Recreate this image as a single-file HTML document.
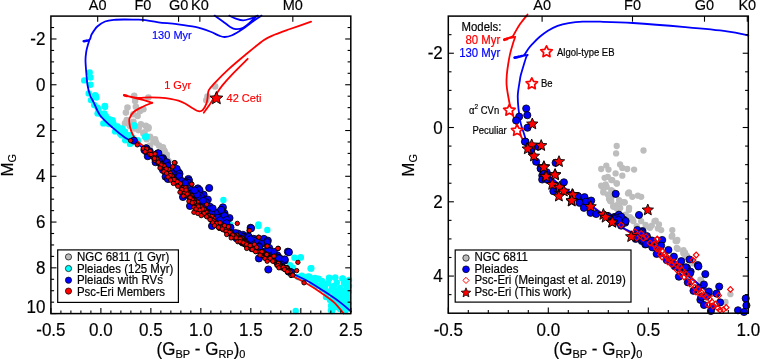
<!DOCTYPE html><html><head><meta charset="utf-8"><style>html,body{margin:0;padding:0;background:#fff;width:760px;height:359px;overflow:hidden;position:relative} svg text{stroke-width:0.18px;paint-order:stroke} svg{will-change:transform}</style></head><body><svg width="760" height="359" viewBox="0 0 760 359" style="position:absolute;left:0;top:0">
<g font-family='"Liberation Sans", sans-serif'>
<circle cx="134.2" cy="95.9" r="3.3" fill="#bdbdbd"/><circle cx="135.1" cy="100.9" r="3.3" fill="#bdbdbd"/><circle cx="148.4" cy="97.5" r="3.3" fill="#bdbdbd"/><circle cx="127.5" cy="107.5" r="3.3" fill="#bdbdbd"/><circle cx="135.9" cy="106.7" r="3.3" fill="#bdbdbd"/><circle cx="140.1" cy="110.9" r="3.3" fill="#bdbdbd"/><circle cx="143.4" cy="109.2" r="3.3" fill="#bdbdbd"/><circle cx="125.9" cy="112.6" r="3.3" fill="#bdbdbd"/><circle cx="133.4" cy="114.2" r="3.3" fill="#bdbdbd"/><circle cx="137.6" cy="115.9" r="3.3" fill="#bdbdbd"/><circle cx="126.7" cy="120.1" r="3.3" fill="#bdbdbd"/><circle cx="125.0" cy="123.4" r="3.3" fill="#bdbdbd"/><circle cx="133.4" cy="121.7" r="3.3" fill="#bdbdbd"/><circle cx="140.9" cy="124.2" r="3.3" fill="#bdbdbd"/><circle cx="145.9" cy="125.9" r="3.3" fill="#bdbdbd"/><circle cx="148.4" cy="128.4" r="3.3" fill="#bdbdbd"/><circle cx="134.2" cy="128.4" r="3.3" fill="#bdbdbd"/><circle cx="138.4" cy="130.1" r="3.3" fill="#bdbdbd"/><circle cx="143.4" cy="133.4" r="3.3" fill="#bdbdbd"/><circle cx="150.1" cy="136.8" r="3.3" fill="#bdbdbd"/><circle cx="155.1" cy="139.3" r="3.3" fill="#bdbdbd"/><circle cx="146.7" cy="139.3" r="3.3" fill="#bdbdbd"/><circle cx="148.4" cy="127.2" r="3.3" fill="#bdbdbd"/><circle cx="144.5" cy="132.2" r="3.3" fill="#bdbdbd"/><circle cx="153.4" cy="141.1" r="3.3" fill="#bdbdbd"/><circle cx="156.2" cy="142.8" r="3.3" fill="#bdbdbd"/><circle cx="150.1" cy="145.6" r="3.3" fill="#bdbdbd"/><circle cx="162.9" cy="147.3" r="3.3" fill="#bdbdbd"/><circle cx="159.0" cy="145.6" r="3.3" fill="#bdbdbd"/><circle cx="164.0" cy="150.6" r="3.3" fill="#bdbdbd"/><circle cx="166.8" cy="158.4" r="3.3" fill="#bdbdbd"/><circle cx="166.7" cy="154.5" r="3.3" fill="#bdbdbd"/><circle cx="164.5" cy="151.1" r="3.3" fill="#bdbdbd"/><circle cx="191.7" cy="188.9" r="3.3" fill="#bdbdbd"/><circle cx="168.5" cy="161.0" r="3.3" fill="#bdbdbd"/><circle cx="139.0" cy="127.0" r="3.3" fill="#bdbdbd"/><circle cx="130.0" cy="126.0" r="3.3" fill="#bdbdbd"/><circle cx="215.1" cy="86.4" r="3.3" fill="#bdbdbd"/><circle cx="206.3" cy="100.2" r="3.3" fill="#bdbdbd"/><circle cx="207.5" cy="96.5" r="3.3" fill="#bdbdbd"/><circle cx="89.7" cy="72.5" r="3.2" fill="#00ffff"/><circle cx="90.5" cy="77.5" r="3.2" fill="#00ffff"/><circle cx="84.2" cy="80.4" r="3.2" fill="#00ffff"/><circle cx="90.5" cy="84.7" r="3.2" fill="#00ffff"/><circle cx="88.7" cy="93.4" r="3.2" fill="#00ffff"/><circle cx="95.9" cy="95.9" r="3.2" fill="#00ffff"/><circle cx="90.9" cy="100.1" r="3.2" fill="#00ffff"/><circle cx="94.2" cy="105.0" r="3.2" fill="#00ffff"/><circle cx="104.7" cy="105.9" r="3.2" fill="#00ffff"/><circle cx="98.4" cy="109.3" r="3.2" fill="#00ffff"/><circle cx="104.2" cy="113.4" r="3.2" fill="#00ffff"/><circle cx="97.6" cy="113.4" r="3.2" fill="#00ffff"/><circle cx="105.0" cy="106.7" r="3.2" fill="#00ffff"/><circle cx="100.0" cy="113.4" r="3.2" fill="#00ffff"/><circle cx="105.8" cy="115.9" r="3.2" fill="#00ffff"/><circle cx="103.3" cy="123.4" r="3.2" fill="#00ffff"/><circle cx="109.2" cy="119.2" r="3.2" fill="#00ffff"/><circle cx="113.4" cy="123.4" r="3.2" fill="#00ffff"/><circle cx="116.7" cy="126.7" r="3.2" fill="#00ffff"/><circle cx="121.7" cy="128.4" r="3.2" fill="#00ffff"/><circle cx="125.0" cy="131.8" r="3.2" fill="#00ffff"/><circle cx="134.2" cy="125.1" r="3.2" fill="#00ffff"/><circle cx="120.0" cy="133.4" r="3.2" fill="#00ffff"/><circle cx="145.1" cy="136.8" r="3.2" fill="#00ffff"/><circle cx="130.0" cy="135.1" r="3.2" fill="#00ffff"/><circle cx="134.5" cy="126.1" r="3.2" fill="#00ffff"/><circle cx="122.2" cy="129.5" r="3.2" fill="#00ffff"/><circle cx="145.6" cy="137.2" r="3.2" fill="#00ffff"/><circle cx="126.7" cy="136.1" r="3.2" fill="#00ffff"/><circle cx="137.8" cy="141.7" r="3.2" fill="#00ffff"/><circle cx="130.0" cy="143.9" r="3.2" fill="#00ffff"/><circle cx="111.0" cy="124.0" r="3.2" fill="#00ffff"/><circle cx="118.0" cy="130.0" r="3.2" fill="#00ffff"/><circle cx="124.0" cy="135.0" r="3.2" fill="#00ffff"/><circle cx="108.0" cy="121.0" r="3.2" fill="#00ffff"/><circle cx="97.6" cy="107.6" r="3.2" fill="#00ffff"/><circle cx="105.0" cy="106.4" r="3.2" fill="#00ffff"/><circle cx="102.6" cy="115.2" r="3.2" fill="#00ffff"/><circle cx="106.3" cy="118.9" r="3.2" fill="#00ffff"/><circle cx="112.6" cy="120.2" r="3.2" fill="#00ffff"/><circle cx="108.8" cy="124.0" r="3.2" fill="#00ffff"/><circle cx="117.6" cy="126.4" r="3.2" fill="#00ffff"/><circle cx="122.6" cy="128.9" r="3.2" fill="#00ffff"/><circle cx="115.1" cy="131.4" r="3.2" fill="#00ffff"/><circle cx="121.4" cy="135.2" r="3.2" fill="#00ffff"/><circle cx="127.7" cy="135.2" r="3.2" fill="#00ffff"/><circle cx="132.7" cy="137.7" r="3.2" fill="#00ffff"/><circle cx="125.2" cy="140.2" r="3.2" fill="#00ffff"/><circle cx="137.7" cy="140.2" r="3.2" fill="#00ffff"/><circle cx="146.5" cy="136.5" r="3.2" fill="#00ffff"/><circle cx="95.0" cy="95.1" r="3.2" fill="#00ffff"/><circle cx="96.3" cy="97.6" r="3.2" fill="#00ffff"/><circle cx="223.4" cy="200.0" r="3.2" fill="#00ffff"/><circle cx="230.0" cy="224.5" r="3.2" fill="#00ffff"/><circle cx="258.4" cy="224.5" r="3.2" fill="#00ffff"/><circle cx="258.4" cy="226.1" r="3.2" fill="#00ffff"/><circle cx="267.3" cy="230.0" r="3.2" fill="#00ffff"/><circle cx="294.5" cy="257.8" r="3.2" fill="#00ffff"/><circle cx="300.6" cy="257.3" r="3.2" fill="#00ffff"/><circle cx="310.7" cy="268.4" r="3.2" fill="#00ffff"/><circle cx="290.0" cy="265.1" r="3.2" fill="#00ffff"/><circle cx="292.8" cy="267.8" r="3.2" fill="#00ffff"/><circle cx="301.7" cy="275.6" r="3.2" fill="#00ffff"/><circle cx="309.5" cy="276.7" r="3.2" fill="#00ffff"/><circle cx="311.3" cy="268.2" r="3.2" fill="#00ffff"/><circle cx="308.2" cy="276.5" r="3.2" fill="#00ffff"/><circle cx="318.6" cy="278.6" r="3.2" fill="#00ffff"/><circle cx="329.1" cy="277.6" r="3.2" fill="#00ffff"/><circle cx="335.3" cy="277.6" r="3.2" fill="#00ffff"/><circle cx="342.6" cy="278.6" r="3.2" fill="#00ffff"/><circle cx="346.8" cy="283.8" r="3.2" fill="#00ffff"/><circle cx="323.8" cy="284.9" r="3.2" fill="#00ffff"/><circle cx="332.2" cy="287.0" r="3.2" fill="#00ffff"/><circle cx="340.5" cy="290.1" r="3.2" fill="#00ffff"/><circle cx="334.3" cy="294.3" r="3.2" fill="#00ffff"/><circle cx="346.8" cy="296.4" r="3.2" fill="#00ffff"/><circle cx="331.1" cy="305.8" r="3.2" fill="#00ffff"/><circle cx="332.2" cy="311.0" r="3.2" fill="#00ffff"/><circle cx="295.7" cy="311.0" r="3.2" fill="#00ffff"/><circle cx="315.5" cy="281.8" r="3.2" fill="#00ffff"/><circle cx="336.0" cy="300.0" r="3.2" fill="#00ffff"/><circle cx="341.0" cy="305.0" r="3.2" fill="#00ffff"/><circle cx="345.0" cy="308.0" r="3.2" fill="#00ffff"/><circle cx="347.0" cy="290.0" r="3.2" fill="#00ffff"/><circle cx="340.0" cy="296.0" r="3.2" fill="#00ffff"/><circle cx="328.0" cy="292.0" r="3.2" fill="#00ffff"/><circle cx="338.0" cy="302.0" r="3.2" fill="#00ffff"/><circle cx="344.0" cy="299.0" r="3.2" fill="#00ffff"/><circle cx="337.0" cy="306.0" r="3.2" fill="#00ffff"/><circle cx="347.0" cy="303.0" r="3.2" fill="#00ffff"/><circle cx="322.0" cy="289.0" r="3.2" fill="#00ffff"/><circle cx="316.0" cy="286.0" r="3.2" fill="#00ffff"/><circle cx="326.0" cy="297.0" r="3.2" fill="#00ffff"/><circle cx="330.0" cy="300.0" r="3.2" fill="#00ffff"/><circle cx="304.0" cy="279.0" r="3.2" fill="#00ffff"/><circle cx="298.0" cy="277.0" r="3.2" fill="#00ffff"/><circle cx="312.0" cy="283.0" r="3.2" fill="#00ffff"/><circle cx="300.8" cy="257.5" r="3.2" fill="#00ffff"/><circle cx="310.9" cy="268.4" r="3.2" fill="#00ffff"/><circle cx="303.3" cy="276.7" r="3.2" fill="#00ffff"/><circle cx="310.0" cy="277.6" r="3.2" fill="#00ffff"/><circle cx="318.4" cy="279.2" r="3.2" fill="#00ffff"/><circle cx="329.3" cy="278.4" r="3.2" fill="#00ffff"/><circle cx="335.1" cy="277.6" r="3.2" fill="#00ffff"/><circle cx="342.6" cy="278.4" r="3.2" fill="#00ffff"/><circle cx="336.8" cy="282.6" r="3.2" fill="#00ffff"/><circle cx="346.0" cy="285.1" r="3.2" fill="#00ffff"/><circle cx="325.1" cy="285.9" r="3.2" fill="#00ffff"/><circle cx="331.8" cy="289.3" r="3.2" fill="#00ffff"/><circle cx="337.6" cy="291.0" r="3.2" fill="#00ffff"/><circle cx="342.6" cy="291.0" r="3.2" fill="#00ffff"/><circle cx="348.5" cy="291.8" r="3.2" fill="#00ffff"/><circle cx="346.8" cy="296.8" r="3.2" fill="#00ffff"/><circle cx="341.8" cy="298.5" r="3.2" fill="#00ffff"/><circle cx="338.5" cy="303.5" r="3.2" fill="#00ffff"/><circle cx="348.5" cy="303.5" r="3.2" fill="#00ffff"/><circle cx="331.8" cy="305.2" r="3.2" fill="#00ffff"/><circle cx="330.9" cy="310.2" r="3.2" fill="#00ffff"/><circle cx="348.5" cy="308.5" r="3.2" fill="#00ffff"/><circle cx="345.2" cy="311.0" r="3.2" fill="#00ffff"/><circle cx="315.0" cy="278.0" r="3.2" fill="#00ffff"/><circle cx="322.0" cy="281.0" r="3.2" fill="#00ffff"/><circle cx="328.0" cy="283.0" r="3.2" fill="#00ffff"/><circle cx="334.0" cy="286.0" r="3.2" fill="#00ffff"/><circle cx="340.0" cy="288.0" r="3.2" fill="#00ffff"/><circle cx="346.0" cy="290.0" r="3.2" fill="#00ffff"/><circle cx="344.0" cy="294.0" r="3.2" fill="#00ffff"/><circle cx="339.0" cy="296.0" r="3.2" fill="#00ffff"/><circle cx="335.0" cy="300.0" r="3.2" fill="#00ffff"/><circle cx="343.0" cy="301.0" r="3.2" fill="#00ffff"/><circle cx="347.0" cy="306.0" r="3.2" fill="#00ffff"/><circle cx="340.0" cy="309.0" r="3.2" fill="#00ffff"/><circle cx="336.0" cy="307.0" r="3.2" fill="#00ffff"/><circle cx="333.0" cy="298.0" r="3.2" fill="#00ffff"/><circle cx="326.0" cy="291.0" r="3.2" fill="#00ffff"/><circle cx="320.0" cy="286.0" r="3.2" fill="#00ffff"/><circle cx="348.0" cy="298.0" r="3.2" fill="#00ffff"/><circle cx="349.0" cy="286.0" r="3.2" fill="#00ffff"/><circle cx="349.0" cy="280.0" r="3.2" fill="#00ffff"/><circle cx="344.0" cy="283.0" r="3.2" fill="#00ffff"/><path d="M83.50,41.20 C84.50,40.97 88.13,40.95 89.50,39.80 C90.87,38.65 90.40,36.52 91.70,34.30 C93.00,32.08 95.07,28.63 97.30,26.50 C99.53,24.37 102.32,22.62 105.10,21.50 C107.88,20.38 110.65,20.13 114.00,19.80 C117.35,19.47 121.70,19.52 125.20,19.50 C128.70,19.48 132.10,19.63 135.00,19.70 C137.90,19.77 138.70,19.47 142.60,19.90 C146.50,20.33 152.70,21.60 158.40,22.30 C164.10,23.00 170.67,23.33 176.80,24.10 C182.93,24.87 189.67,25.67 195.20,26.90 C200.73,28.13 206.00,30.03 210.00,31.50 C214.00,32.97 216.75,34.78 219.20,35.70 C221.65,36.62 222.55,37.08 224.70,37.00 C226.85,36.92 229.03,36.58 232.10,35.20 C235.17,33.82 239.42,31.17 243.10,28.70 C246.78,26.23 251.13,22.58 254.20,20.40 C257.27,18.22 260.28,16.40 261.50,15.60 M89.50,39.80 C89.18,40.83 88.15,43.97 87.60,46.00 C87.05,48.03 86.55,49.55 86.20,52.00 C85.85,54.45 85.45,56.87 85.50,60.70 C85.55,64.53 86.17,70.95 86.50,75.00 C86.83,79.05 86.92,81.67 87.50,85.00 C88.08,88.33 88.95,92.07 90.00,95.00 C91.05,97.93 92.13,99.23 93.80,102.60 C95.47,105.97 96.87,111.02 100.00,115.20 C103.13,119.38 108.40,123.95 112.60,127.70 C116.80,131.45 121.43,135.20 125.20,137.70 C128.97,140.20 131.07,140.15 135.20,142.70 C139.33,145.25 144.87,148.78 150.00,153.00 C155.13,157.22 159.33,161.00 166.00,168.00 C172.67,175.00 181.83,186.50 190.00,195.00 C198.17,203.50 206.67,211.83 215.00,219.00 C223.33,226.17 231.67,232.00 240.00,238.00 C248.33,244.00 256.93,249.45 265.00,255.00 C273.07,260.55 281.38,267.02 288.40,271.30 C295.42,275.58 301.20,277.40 307.10,280.70 C313.00,284.00 318.23,287.45 323.80,291.10 C329.37,294.75 335.97,299.20 340.50,302.60 C345.03,306.00 349.25,310.02 351.00,311.50 M214.60,15.60 C215.98,16.57 220.30,19.52 222.90,21.40 C225.50,23.28 228.05,25.62 230.20,26.90 C232.35,28.18 233.65,28.95 235.80,29.10 C237.95,29.25 240.73,28.90 243.10,27.80 C245.47,26.70 247.85,24.38 250.00,22.50 C252.15,20.62 255.00,17.50 256.00,16.50 M229.30,15.60 C230.38,16.10 233.50,17.80 235.80,18.60 C238.10,19.40 240.65,20.40 243.10,20.40 C245.55,20.40 248.03,19.40 250.50,18.60 C252.97,17.80 256.67,16.10 257.90,15.60" fill="none" stroke="#0000ff" stroke-width="1.8" stroke-linejoin="round" stroke-linecap="round"/><path d="M343.70,313.60 C342.13,311.77 337.95,306.00 334.30,302.60 C330.65,299.20 326.33,296.33 321.80,293.20 C317.27,290.07 312.67,287.10 307.10,283.80 C301.53,280.50 295.42,277.87 288.40,273.40 C281.38,268.93 273.07,262.57 265.00,257.00 C256.93,251.43 248.33,246.00 240.00,240.00 C231.67,234.00 223.33,228.17 215.00,221.00 C206.67,213.83 198.17,205.67 190.00,197.00 C181.83,188.33 172.67,176.55 166.00,169.00 C159.33,161.45 154.33,155.97 150.00,151.70 C145.67,147.43 142.77,146.03 140.00,143.40 C137.23,140.77 135.07,138.68 133.40,135.90 C131.73,133.12 130.65,129.62 130.00,126.70 C129.35,123.78 128.85,120.90 129.50,118.40 C130.15,115.90 131.68,113.65 133.90,111.70 C136.12,109.75 139.73,108.18 142.80,106.70 C145.87,105.22 150.72,103.45 152.30,102.80 M152.3,102.8 L144,100.2 L137.3,98.6 L123.9,95.2 M123.90,95.20 C126.08,95.63 132.65,97.45 137.00,97.80 C141.35,98.15 145.20,97.23 150.00,97.30 C154.80,97.37 160.53,97.45 165.80,98.20 C171.07,98.95 177.13,100.13 181.60,101.80 C186.07,103.47 189.78,106.63 192.60,108.20 C195.42,109.77 196.83,110.87 198.50,111.20 C200.17,111.53 201.30,111.42 202.60,110.20 C203.90,108.98 205.47,106.00 206.30,103.90 C207.13,101.80 207.18,99.90 207.60,97.60 C208.02,95.30 207.55,92.60 208.80,90.10 C210.05,87.60 211.97,85.93 215.10,82.60 C218.23,79.27 222.58,74.70 227.60,70.10 C232.62,65.50 239.13,60.02 245.20,55.00 C251.27,49.98 259.03,43.42 264.00,40.00 C268.97,36.58 270.67,36.33 275.00,34.50 C279.33,32.67 283.98,31.13 290.00,29.00 C296.02,26.87 307.58,22.92 311.10,21.70 M247.70,58.80 C245.20,61.30 236.88,69.42 232.70,73.80 C228.52,78.18 225.32,81.75 222.60,85.10 C219.88,88.45 218.48,90.77 216.40,93.90 C214.32,97.03 212.20,100.77 210.10,103.90 C208.00,107.03 204.85,111.23 203.80,112.70" fill="none" stroke="#ff0000" stroke-width="1.8" stroke-linejoin="round" stroke-linecap="round"/><path d="M86.5,40.7 L84,41.2" stroke="#0000ff" stroke-width="2.6" stroke-linecap="round" fill="none"/><path d="M127,96 L124.3,95.3" stroke="#ff0000" stroke-width="2.6" stroke-linecap="round" fill="none"/><circle cx="162.9" cy="158.2" r="3.6" fill="#0000ff" stroke="#000" stroke-width="0.8"/><circle cx="166.9" cy="162.3" r="3.6" fill="#0000ff" stroke="#000" stroke-width="0.8"/><circle cx="163.3" cy="159.4" r="3.6" fill="#0000ff" stroke="#000" stroke-width="0.8"/><circle cx="178.8" cy="172.6" r="3.6" fill="#0000ff" stroke="#000" stroke-width="0.8"/><circle cx="174.7" cy="172.8" r="3.6" fill="#0000ff" stroke="#000" stroke-width="0.8"/><circle cx="188.4" cy="179.0" r="3.6" fill="#0000ff" stroke="#000" stroke-width="0.8"/><circle cx="182.3" cy="182.3" r="3.6" fill="#0000ff" stroke="#000" stroke-width="0.8"/><circle cx="167.0" cy="175.8" r="3.6" fill="#0000ff" stroke="#000" stroke-width="0.8"/><circle cx="176.0" cy="177.8" r="3.6" fill="#0000ff" stroke="#000" stroke-width="0.8"/><circle cx="183.6" cy="182.2" r="3.6" fill="#0000ff" stroke="#000" stroke-width="0.8"/><circle cx="189.0" cy="180.7" r="3.6" fill="#0000ff" stroke="#000" stroke-width="0.8"/><circle cx="203.6" cy="194.7" r="3.6" fill="#0000ff" stroke="#000" stroke-width="0.8"/><circle cx="222.9" cy="207.4" r="3.6" fill="#0000ff" stroke="#000" stroke-width="0.8"/><circle cx="214.8" cy="214.3" r="3.6" fill="#0000ff" stroke="#000" stroke-width="0.8"/><circle cx="224.5" cy="213.3" r="3.6" fill="#0000ff" stroke="#000" stroke-width="0.8"/><circle cx="222.1" cy="218.2" r="3.6" fill="#0000ff" stroke="#000" stroke-width="0.8"/><circle cx="221.5" cy="210.6" r="3.6" fill="#0000ff" stroke="#000" stroke-width="0.8"/><circle cx="217.0" cy="212.9" r="3.6" fill="#0000ff" stroke="#000" stroke-width="0.8"/><circle cx="224.5" cy="216.7" r="3.6" fill="#0000ff" stroke="#000" stroke-width="0.8"/><circle cx="219.8" cy="220.7" r="3.6" fill="#0000ff" stroke="#000" stroke-width="0.8"/><circle cx="229.5" cy="218.0" r="3.6" fill="#0000ff" stroke="#000" stroke-width="0.8"/><circle cx="242.9" cy="234.8" r="3.6" fill="#0000ff" stroke="#000" stroke-width="0.8"/><circle cx="246.5" cy="237.7" r="3.6" fill="#0000ff" stroke="#000" stroke-width="0.8"/><circle cx="242.6" cy="236.4" r="3.6" fill="#0000ff" stroke="#000" stroke-width="0.8"/><circle cx="261.5" cy="251.2" r="3.6" fill="#0000ff" stroke="#000" stroke-width="0.8"/><circle cx="277.3" cy="255.3" r="3.6" fill="#0000ff" stroke="#000" stroke-width="0.8"/><circle cx="284.8" cy="260.4" r="3.6" fill="#0000ff" stroke="#000" stroke-width="0.8"/><circle cx="268.3" cy="253.8" r="3.6" fill="#0000ff" stroke="#000" stroke-width="0.8"/><circle cx="248.0" cy="236.0" r="3.6" fill="#0000ff" stroke="#000" stroke-width="0.8"/><circle cx="269.2" cy="248.0" r="3.6" fill="#0000ff" stroke="#000" stroke-width="0.8"/><circle cx="279.4" cy="258.0" r="3.6" fill="#0000ff" stroke="#000" stroke-width="0.8"/><circle cx="281.0" cy="262.3" r="3.6" fill="#0000ff" stroke="#000" stroke-width="0.8"/><circle cx="271.7" cy="254.1" r="3.6" fill="#0000ff" stroke="#000" stroke-width="0.8"/><circle cx="133.9" cy="140.6" r="3.6" fill="#0000ff" stroke="#000" stroke-width="0.8"/><circle cx="157.9" cy="153.4" r="3.6" fill="#0000ff" stroke="#000" stroke-width="0.8"/><circle cx="161.2" cy="158.4" r="3.6" fill="#0000ff" stroke="#000" stroke-width="0.8"/><circle cx="147.8" cy="156.2" r="3.6" fill="#0000ff" stroke="#000" stroke-width="0.8"/><circle cx="164.5" cy="161.7" r="3.6" fill="#0000ff" stroke="#000" stroke-width="0.8"/><circle cx="158.4" cy="153.3" r="3.6" fill="#0000ff" stroke="#000" stroke-width="0.8"/><circle cx="161.1" cy="158.9" r="3.6" fill="#0000ff" stroke="#000" stroke-width="0.8"/><circle cx="155.6" cy="162.2" r="3.6" fill="#0000ff" stroke="#000" stroke-width="0.8"/><circle cx="167.8" cy="166.1" r="3.6" fill="#0000ff" stroke="#000" stroke-width="0.8"/><circle cx="176.7" cy="168.9" r="3.6" fill="#0000ff" stroke="#000" stroke-width="0.8"/><circle cx="179.5" cy="173.9" r="3.6" fill="#0000ff" stroke="#000" stroke-width="0.8"/><circle cx="171.7" cy="173.4" r="3.6" fill="#0000ff" stroke="#000" stroke-width="0.8"/><circle cx="185.6" cy="181.7" r="3.6" fill="#0000ff" stroke="#000" stroke-width="0.8"/><circle cx="181.2" cy="184.5" r="3.6" fill="#0000ff" stroke="#000" stroke-width="0.8"/><circle cx="165.6" cy="176.7" r="3.6" fill="#0000ff" stroke="#000" stroke-width="0.8"/><circle cx="197.9" cy="188.4" r="3.6" fill="#0000ff" stroke="#000" stroke-width="0.8"/><circle cx="176.7" cy="180.1" r="3.6" fill="#0000ff" stroke="#000" stroke-width="0.8"/><circle cx="168.0" cy="179.0" r="3.6" fill="#0000ff" stroke="#000" stroke-width="0.8"/><circle cx="163.0" cy="170.0" r="3.6" fill="#0000ff" stroke="#000" stroke-width="0.8"/><circle cx="183.3" cy="181.7" r="3.6" fill="#0000ff" stroke="#000" stroke-width="0.8"/><circle cx="186.7" cy="183.3" r="3.6" fill="#0000ff" stroke="#000" stroke-width="0.8"/><circle cx="199.5" cy="190.0" r="3.6" fill="#0000ff" stroke="#000" stroke-width="0.8"/><circle cx="209.2" cy="188.0" r="3.6" fill="#0000ff" stroke="#000" stroke-width="0.8"/><circle cx="201.2" cy="197.3" r="3.6" fill="#0000ff" stroke="#000" stroke-width="0.8"/><circle cx="207.8" cy="199.5" r="3.6" fill="#0000ff" stroke="#000" stroke-width="0.8"/><circle cx="195.0" cy="199.5" r="3.6" fill="#0000ff" stroke="#000" stroke-width="0.8"/><circle cx="197.8" cy="203.4" r="3.6" fill="#0000ff" stroke="#000" stroke-width="0.8"/><circle cx="221.2" cy="210.1" r="3.6" fill="#0000ff" stroke="#000" stroke-width="0.8"/><circle cx="215.6" cy="214.0" r="3.6" fill="#0000ff" stroke="#000" stroke-width="0.8"/><circle cx="224.5" cy="215.6" r="3.6" fill="#0000ff" stroke="#000" stroke-width="0.8"/><circle cx="210.1" cy="213.4" r="3.6" fill="#0000ff" stroke="#000" stroke-width="0.8"/><circle cx="219.0" cy="217.9" r="3.6" fill="#0000ff" stroke="#000" stroke-width="0.8"/><circle cx="183.0" cy="197.0" r="3.6" fill="#0000ff" stroke="#000" stroke-width="0.8"/><circle cx="190.0" cy="206.0" r="3.6" fill="#0000ff" stroke="#000" stroke-width="0.8"/><circle cx="221.1" cy="210.0" r="3.6" fill="#0000ff" stroke="#000" stroke-width="0.8"/><circle cx="215.6" cy="213.4" r="3.6" fill="#0000ff" stroke="#000" stroke-width="0.8"/><circle cx="224.5" cy="216.1" r="3.6" fill="#0000ff" stroke="#000" stroke-width="0.8"/><circle cx="217.8" cy="220.0" r="3.6" fill="#0000ff" stroke="#000" stroke-width="0.8"/><circle cx="226.7" cy="220.0" r="3.6" fill="#0000ff" stroke="#000" stroke-width="0.8"/><circle cx="250.6" cy="227.8" r="3.6" fill="#0000ff" stroke="#000" stroke-width="0.8"/><circle cx="242.3" cy="237.3" r="3.6" fill="#0000ff" stroke="#000" stroke-width="0.8"/><circle cx="246.7" cy="240.6" r="3.6" fill="#0000ff" stroke="#000" stroke-width="0.8"/><circle cx="254.5" cy="239.5" r="3.6" fill="#0000ff" stroke="#000" stroke-width="0.8"/><circle cx="235.6" cy="236.2" r="3.6" fill="#0000ff" stroke="#000" stroke-width="0.8"/><circle cx="212.0" cy="226.0" r="3.6" fill="#0000ff" stroke="#000" stroke-width="0.8"/><circle cx="251.1" cy="228.3" r="3.6" fill="#0000ff" stroke="#000" stroke-width="0.8"/><circle cx="242.2" cy="237.2" r="3.6" fill="#0000ff" stroke="#000" stroke-width="0.8"/><circle cx="255.6" cy="240.0" r="3.6" fill="#0000ff" stroke="#000" stroke-width="0.8"/><circle cx="263.9" cy="238.9" r="3.6" fill="#0000ff" stroke="#000" stroke-width="0.8"/><circle cx="267.8" cy="240.6" r="3.6" fill="#0000ff" stroke="#000" stroke-width="0.8"/><circle cx="262.3" cy="251.7" r="3.6" fill="#0000ff" stroke="#000" stroke-width="0.8"/><circle cx="276.7" cy="257.3" r="3.6" fill="#0000ff" stroke="#000" stroke-width="0.8"/><circle cx="282.3" cy="261.7" r="3.6" fill="#0000ff" stroke="#000" stroke-width="0.8"/><circle cx="287.9" cy="251.7" r="3.6" fill="#0000ff" stroke="#000" stroke-width="0.8"/><circle cx="258.9" cy="258.4" r="3.6" fill="#0000ff" stroke="#000" stroke-width="0.8"/><circle cx="267.8" cy="255.1" r="3.6" fill="#0000ff" stroke="#000" stroke-width="0.8"/><circle cx="246.0" cy="239.0" r="3.6" fill="#0000ff" stroke="#000" stroke-width="0.8"/><circle cx="288.9" cy="252.2" r="3.6" fill="#0000ff" stroke="#000" stroke-width="0.8"/><circle cx="267.2" cy="242.2" r="3.6" fill="#0000ff" stroke="#000" stroke-width="0.8"/><circle cx="266.1" cy="251.1" r="3.6" fill="#0000ff" stroke="#000" stroke-width="0.8"/><circle cx="277.2" cy="257.8" r="3.6" fill="#0000ff" stroke="#000" stroke-width="0.8"/><circle cx="281.7" cy="262.3" r="3.6" fill="#0000ff" stroke="#000" stroke-width="0.8"/><circle cx="268.3" cy="269.5" r="3.6" fill="#0000ff" stroke="#000" stroke-width="0.8"/><circle cx="271.0" cy="255.0" r="3.6" fill="#0000ff" stroke="#000" stroke-width="0.8"/><circle cx="155.0" cy="158.5" r="3.4" fill="#0000ff" stroke="#000" stroke-width="0.8"/><circle cx="277.5" cy="262.8" r="3.4" fill="#0000ff" stroke="#000" stroke-width="0.8"/><circle cx="159.4" cy="161.9" r="3.4" fill="#0000ff" stroke="#000" stroke-width="0.8"/><circle cx="217.0" cy="221.4" r="3.4" fill="#0000ff" stroke="#000" stroke-width="0.8"/><circle cx="193.8" cy="202.2" r="3.4" fill="#0000ff" stroke="#000" stroke-width="0.8"/><circle cx="161.7" cy="166.5" r="3.4" fill="#0000ff" stroke="#000" stroke-width="0.8"/><circle cx="268.9" cy="256.1" r="3.4" fill="#0000ff" stroke="#000" stroke-width="0.8"/><circle cx="171.0" cy="176.3" r="3.4" fill="#0000ff" stroke="#000" stroke-width="0.8"/><circle cx="288.5" cy="271.7" r="3.4" fill="#0000ff" stroke="#000" stroke-width="0.8"/><circle cx="145.7" cy="151.2" r="3.4" fill="#0000ff" stroke="#000" stroke-width="0.8"/><circle cx="191.0" cy="198.7" r="3.4" fill="#0000ff" stroke="#000" stroke-width="0.8"/><circle cx="281.8" cy="266.8" r="3.4" fill="#0000ff" stroke="#000" stroke-width="0.8"/><circle cx="250.4" cy="245.7" r="3.4" fill="#0000ff" stroke="#000" stroke-width="0.8"/><circle cx="255.1" cy="248.6" r="3.4" fill="#0000ff" stroke="#000" stroke-width="0.8"/><circle cx="188.2" cy="195.3" r="3.4" fill="#0000ff" stroke="#000" stroke-width="0.8"/><circle cx="290.4" cy="271.8" r="3.4" fill="#0000ff" stroke="#000" stroke-width="0.8"/><circle cx="209.7" cy="214.7" r="3.4" fill="#0000ff" stroke="#000" stroke-width="0.8"/><circle cx="242.7" cy="242.7" r="3.4" fill="#0000ff" stroke="#000" stroke-width="0.8"/><circle cx="236.5" cy="238.5" r="3.4" fill="#0000ff" stroke="#000" stroke-width="0.8"/><circle cx="195.1" cy="202.7" r="3.4" fill="#0000ff" stroke="#000" stroke-width="0.8"/><circle cx="146.5" cy="148.3" r="3.4" fill="#0000ff" stroke="#000" stroke-width="0.8"/><circle cx="286.3" cy="268.7" r="3.4" fill="#0000ff" stroke="#000" stroke-width="0.8"/><circle cx="271.2" cy="258.2" r="3.4" fill="#0000ff" stroke="#000" stroke-width="0.8"/><circle cx="212.8" cy="220.3" r="3.4" fill="#0000ff" stroke="#000" stroke-width="0.8"/><circle cx="247.7" cy="245.4" r="3.4" fill="#0000ff" stroke="#000" stroke-width="0.8"/><circle cx="214.4" cy="220.3" r="3.4" fill="#0000ff" stroke="#000" stroke-width="0.8"/><circle cx="234.0" cy="236.5" r="3.4" fill="#0000ff" stroke="#000" stroke-width="0.8"/><circle cx="144.2" cy="150.0" r="3.4" fill="#0000ff" stroke="#000" stroke-width="0.8"/><circle cx="227.8" cy="229.1" r="3.4" fill="#0000ff" stroke="#000" stroke-width="0.8"/><circle cx="188.7" cy="192.6" r="3.4" fill="#0000ff" stroke="#000" stroke-width="0.8"/><circle cx="205.2" cy="213.2" r="3.4" fill="#0000ff" stroke="#000" stroke-width="0.8"/><circle cx="167.0" cy="170.5" r="3.4" fill="#0000ff" stroke="#000" stroke-width="0.8"/><circle cx="246.2" cy="241.7" r="3.4" fill="#0000ff" stroke="#000" stroke-width="0.8"/><circle cx="257.2" cy="249.9" r="3.4" fill="#0000ff" stroke="#000" stroke-width="0.8"/><circle cx="278.6" cy="264.0" r="3.4" fill="#0000ff" stroke="#000" stroke-width="0.8"/><circle cx="149.9" cy="151.2" r="3.4" fill="#0000ff" stroke="#000" stroke-width="0.8"/><circle cx="146.0" cy="148.1" r="3.4" fill="#0000ff" stroke="#000" stroke-width="0.8"/><circle cx="239.9" cy="238.3" r="3.4" fill="#0000ff" stroke="#000" stroke-width="0.8"/><circle cx="161.1" cy="164.4" r="3.4" fill="#0000ff" stroke="#000" stroke-width="0.8"/><circle cx="289.7" cy="272.1" r="3.4" fill="#0000ff" stroke="#000" stroke-width="0.8"/><circle cx="205.7" cy="210.3" r="3.4" fill="#0000ff" stroke="#000" stroke-width="0.8"/><circle cx="265.0" cy="255.8" r="3.4" fill="#0000ff" stroke="#000" stroke-width="0.8"/><circle cx="162.5" cy="166.9" r="3.4" fill="#0000ff" stroke="#000" stroke-width="0.8"/><circle cx="214.3" cy="218.6" r="3.4" fill="#0000ff" stroke="#000" stroke-width="0.8"/><circle cx="252.0" cy="248.4" r="3.4" fill="#0000ff" stroke="#000" stroke-width="0.8"/><circle cx="291.3" cy="272.2" r="3.4" fill="#0000ff" stroke="#000" stroke-width="0.8"/><circle cx="172.0" cy="173.3" r="3.4" fill="#0000ff" stroke="#000" stroke-width="0.8"/><circle cx="178.2" cy="183.4" r="3.4" fill="#0000ff" stroke="#000" stroke-width="0.8"/><circle cx="213.5" cy="221.1" r="3.4" fill="#0000ff" stroke="#000" stroke-width="0.8"/><circle cx="230.0" cy="232.9" r="3.4" fill="#0000ff" stroke="#000" stroke-width="0.8"/><circle cx="226.5" cy="223.1" r="3.4" fill="#0000ff" stroke="#000" stroke-width="0.8"/><circle cx="273.8" cy="251.7" r="3.4" fill="#0000ff" stroke="#000" stroke-width="0.8"/><circle cx="278.9" cy="258.3" r="3.4" fill="#0000ff" stroke="#000" stroke-width="0.8"/><circle cx="179.3" cy="176.2" r="3.4" fill="#0000ff" stroke="#000" stroke-width="0.8"/><circle cx="198.7" cy="197.0" r="3.4" fill="#0000ff" stroke="#000" stroke-width="0.8"/><circle cx="251.7" cy="243.8" r="3.4" fill="#0000ff" stroke="#000" stroke-width="0.8"/><circle cx="196.5" cy="195.3" r="3.4" fill="#0000ff" stroke="#000" stroke-width="0.8"/><circle cx="261.5" cy="243.8" r="3.4" fill="#0000ff" stroke="#000" stroke-width="0.8"/><circle cx="238.1" cy="233.4" r="3.4" fill="#0000ff" stroke="#000" stroke-width="0.8"/><circle cx="191.3" cy="189.7" r="3.4" fill="#0000ff" stroke="#000" stroke-width="0.8"/><circle cx="230.7" cy="227.5" r="3.4" fill="#0000ff" stroke="#000" stroke-width="0.8"/><circle cx="196.5" cy="193.0" r="3.4" fill="#0000ff" stroke="#000" stroke-width="0.8"/><circle cx="253.8" cy="240.0" r="3.4" fill="#0000ff" stroke="#000" stroke-width="0.8"/><circle cx="181.6" cy="180.9" r="3.4" fill="#0000ff" stroke="#000" stroke-width="0.8"/><circle cx="259.0" cy="246.1" r="3.4" fill="#0000ff" stroke="#000" stroke-width="0.8"/><circle cx="206.2" cy="202.3" r="3.4" fill="#0000ff" stroke="#000" stroke-width="0.8"/><circle cx="253.6" cy="238.7" r="3.4" fill="#0000ff" stroke="#000" stroke-width="0.8"/><circle cx="216.3" cy="218.7" r="3.4" fill="#0000ff" stroke="#000" stroke-width="0.8"/><circle cx="192.3" cy="193.1" r="3.4" fill="#0000ff" stroke="#000" stroke-width="0.8"/><circle cx="198.9" cy="201.5" r="3.4" fill="#0000ff" stroke="#000" stroke-width="0.8"/><circle cx="211.7" cy="213.2" r="3.4" fill="#0000ff" stroke="#000" stroke-width="0.8"/><circle cx="202.3" cy="201.3" r="3.4" fill="#0000ff" stroke="#000" stroke-width="0.8"/><circle cx="256.1" cy="240.3" r="3.4" fill="#0000ff" stroke="#000" stroke-width="0.8"/><circle cx="268.2" cy="254.0" r="3.4" fill="#0000ff" stroke="#000" stroke-width="0.8"/><circle cx="204.2" cy="204.9" r="3.4" fill="#0000ff" stroke="#000" stroke-width="0.8"/><circle cx="251.6" cy="241.9" r="3.4" fill="#0000ff" stroke="#000" stroke-width="0.8"/><circle cx="200.3" cy="195.9" r="3.4" fill="#0000ff" stroke="#000" stroke-width="0.8"/><circle cx="195.8" cy="194.7" r="3.4" fill="#0000ff" stroke="#000" stroke-width="0.8"/><circle cx="198.0" cy="197.2" r="3.4" fill="#0000ff" stroke="#000" stroke-width="0.8"/><circle cx="268.1" cy="250.6" r="3.4" fill="#0000ff" stroke="#000" stroke-width="0.8"/><circle cx="196.9" cy="194.5" r="3.4" fill="#0000ff" stroke="#000" stroke-width="0.8"/><circle cx="188.3" cy="182.7" r="3.4" fill="#0000ff" stroke="#000" stroke-width="0.8"/><circle cx="210.0" cy="206.6" r="3.4" fill="#0000ff" stroke="#000" stroke-width="0.8"/><circle cx="185.1" cy="183.2" r="3.4" fill="#0000ff" stroke="#000" stroke-width="0.8"/><circle cx="258.8" cy="246.9" r="3.4" fill="#0000ff" stroke="#000" stroke-width="0.8"/><circle cx="248.9" cy="236.6" r="3.4" fill="#0000ff" stroke="#000" stroke-width="0.8"/><circle cx="268.3" cy="250.3" r="3.4" fill="#0000ff" stroke="#000" stroke-width="0.8"/><circle cx="217.7" cy="217.7" r="3.4" fill="#0000ff" stroke="#000" stroke-width="0.8"/><circle cx="220.2" cy="220.1" r="3.4" fill="#0000ff" stroke="#000" stroke-width="0.8"/><circle cx="212.8" cy="208.3" r="3.4" fill="#0000ff" stroke="#000" stroke-width="0.8"/><circle cx="284.8" cy="259.2" r="3.4" fill="#0000ff" stroke="#000" stroke-width="0.8"/><circle cx="194.5" cy="190.3" r="3.4" fill="#0000ff" stroke="#000" stroke-width="0.8"/><circle cx="202.9" cy="200.7" r="3.4" fill="#0000ff" stroke="#000" stroke-width="0.8"/><circle cx="235.4" cy="232.8" r="3.4" fill="#0000ff" stroke="#000" stroke-width="0.8"/><circle cx="250.4" cy="239.1" r="3.4" fill="#0000ff" stroke="#000" stroke-width="0.8"/><circle cx="164.0" cy="166.0" r="2.1" fill="#ff0000" stroke="#000" stroke-width="1.0"/><circle cx="176.4" cy="181.0" r="2.1" fill="#ff0000" stroke="#000" stroke-width="1.0"/><circle cx="236.5" cy="238.1" r="2.1" fill="#ff0000" stroke="#000" stroke-width="1.0"/><circle cx="217.4" cy="225.2" r="2.1" fill="#ff0000" stroke="#000" stroke-width="1.0"/><circle cx="282.8" cy="267.4" r="2.1" fill="#ff0000" stroke="#000" stroke-width="1.0"/><circle cx="194.4" cy="200.5" r="2.1" fill="#ff0000" stroke="#000" stroke-width="1.0"/><circle cx="173.6" cy="177.4" r="2.1" fill="#ff0000" stroke="#000" stroke-width="1.0"/><circle cx="287.1" cy="267.7" r="2.1" fill="#ff0000" stroke="#000" stroke-width="1.0"/><circle cx="193.3" cy="199.1" r="2.1" fill="#ff0000" stroke="#000" stroke-width="1.0"/><circle cx="272.0" cy="260.1" r="2.1" fill="#ff0000" stroke="#000" stroke-width="1.0"/><circle cx="247.7" cy="245.5" r="2.1" fill="#ff0000" stroke="#000" stroke-width="1.0"/><circle cx="233.8" cy="235.3" r="2.1" fill="#ff0000" stroke="#000" stroke-width="1.0"/><circle cx="189.4" cy="195.5" r="2.1" fill="#ff0000" stroke="#000" stroke-width="1.0"/><circle cx="236.7" cy="235.5" r="2.1" fill="#ff0000" stroke="#000" stroke-width="1.0"/><circle cx="291.0" cy="275.6" r="2.1" fill="#ff0000" stroke="#000" stroke-width="1.0"/><circle cx="186.3" cy="191.3" r="2.1" fill="#ff0000" stroke="#000" stroke-width="1.0"/><circle cx="239.7" cy="237.6" r="2.1" fill="#ff0000" stroke="#000" stroke-width="1.0"/><circle cx="276.9" cy="265.4" r="2.1" fill="#ff0000" stroke="#000" stroke-width="1.0"/><circle cx="204.4" cy="214.9" r="2.1" fill="#ff0000" stroke="#000" stroke-width="1.0"/><circle cx="204.2" cy="210.4" r="2.1" fill="#ff0000" stroke="#000" stroke-width="1.0"/><circle cx="158.1" cy="163.1" r="2.1" fill="#ff0000" stroke="#000" stroke-width="1.0"/><circle cx="269.8" cy="257.0" r="2.1" fill="#ff0000" stroke="#000" stroke-width="1.0"/><circle cx="211.9" cy="218.3" r="2.1" fill="#ff0000" stroke="#000" stroke-width="1.0"/><circle cx="229.2" cy="233.3" r="2.1" fill="#ff0000" stroke="#000" stroke-width="1.0"/><circle cx="243.5" cy="241.6" r="2.1" fill="#ff0000" stroke="#000" stroke-width="1.0"/><circle cx="255.7" cy="249.6" r="2.1" fill="#ff0000" stroke="#000" stroke-width="1.0"/><circle cx="191.9" cy="195.8" r="2.1" fill="#ff0000" stroke="#000" stroke-width="1.0"/><circle cx="194.1" cy="201.0" r="2.1" fill="#ff0000" stroke="#000" stroke-width="1.0"/><circle cx="150.7" cy="154.9" r="2.1" fill="#ff0000" stroke="#000" stroke-width="1.0"/><circle cx="263.1" cy="254.7" r="2.1" fill="#ff0000" stroke="#000" stroke-width="1.0"/><circle cx="270.4" cy="257.9" r="2.1" fill="#ff0000" stroke="#000" stroke-width="1.0"/><circle cx="215.6" cy="222.7" r="2.1" fill="#ff0000" stroke="#000" stroke-width="1.0"/><circle cx="206.1" cy="214.7" r="2.1" fill="#ff0000" stroke="#000" stroke-width="1.0"/><circle cx="162.8" cy="165.3" r="2.1" fill="#ff0000" stroke="#000" stroke-width="1.0"/><circle cx="241.0" cy="242.7" r="2.1" fill="#ff0000" stroke="#000" stroke-width="1.0"/><circle cx="184.6" cy="193.0" r="2.1" fill="#ff0000" stroke="#000" stroke-width="1.0"/><circle cx="249.7" cy="245.7" r="2.1" fill="#ff0000" stroke="#000" stroke-width="1.0"/><circle cx="275.6" cy="262.3" r="2.1" fill="#ff0000" stroke="#000" stroke-width="1.0"/><circle cx="172.5" cy="175.9" r="2.1" fill="#ff0000" stroke="#000" stroke-width="1.0"/><circle cx="262.5" cy="254.9" r="2.1" fill="#ff0000" stroke="#000" stroke-width="1.0"/><circle cx="172.2" cy="175.9" r="2.1" fill="#ff0000" stroke="#000" stroke-width="1.0"/><circle cx="195.0" cy="200.2" r="2.1" fill="#ff0000" stroke="#000" stroke-width="1.0"/><circle cx="153.9" cy="156.8" r="2.1" fill="#ff0000" stroke="#000" stroke-width="1.0"/><circle cx="213.9" cy="218.3" r="2.1" fill="#ff0000" stroke="#000" stroke-width="1.0"/><circle cx="182.0" cy="187.3" r="2.1" fill="#ff0000" stroke="#000" stroke-width="1.0"/><circle cx="184.7" cy="190.1" r="2.1" fill="#ff0000" stroke="#000" stroke-width="1.0"/><circle cx="185.5" cy="191.5" r="2.1" fill="#ff0000" stroke="#000" stroke-width="1.0"/><circle cx="222.8" cy="229.7" r="2.1" fill="#ff0000" stroke="#000" stroke-width="1.0"/><circle cx="229.6" cy="231.0" r="2.1" fill="#ff0000" stroke="#000" stroke-width="1.0"/><circle cx="218.1" cy="224.5" r="2.1" fill="#ff0000" stroke="#000" stroke-width="1.0"/><circle cx="219.3" cy="223.1" r="2.1" fill="#ff0000" stroke="#000" stroke-width="1.0"/><circle cx="269.4" cy="258.7" r="2.1" fill="#ff0000" stroke="#000" stroke-width="1.0"/><circle cx="195.7" cy="203.4" r="2.1" fill="#ff0000" stroke="#000" stroke-width="1.0"/><circle cx="199.3" cy="207.9" r="2.1" fill="#ff0000" stroke="#000" stroke-width="1.0"/><circle cx="178.0" cy="183.0" r="2.1" fill="#ff0000" stroke="#000" stroke-width="1.0"/><circle cx="240.5" cy="240.5" r="2.1" fill="#ff0000" stroke="#000" stroke-width="1.0"/><circle cx="290.1" cy="271.6" r="2.1" fill="#ff0000" stroke="#000" stroke-width="1.0"/><circle cx="211.4" cy="218.7" r="2.1" fill="#ff0000" stroke="#000" stroke-width="1.0"/><circle cx="164.3" cy="166.0" r="2.1" fill="#ff0000" stroke="#000" stroke-width="1.0"/><circle cx="199.8" cy="206.1" r="2.1" fill="#ff0000" stroke="#000" stroke-width="1.0"/><circle cx="204.4" cy="210.9" r="2.1" fill="#ff0000" stroke="#000" stroke-width="1.0"/><circle cx="204.0" cy="210.4" r="2.1" fill="#ff0000" stroke="#000" stroke-width="1.0"/><circle cx="208.9" cy="217.0" r="2.1" fill="#ff0000" stroke="#000" stroke-width="1.0"/><circle cx="246.6" cy="246.8" r="2.1" fill="#ff0000" stroke="#000" stroke-width="1.0"/><circle cx="168.9" cy="169.4" r="2.1" fill="#ff0000" stroke="#000" stroke-width="1.0"/><circle cx="224.0" cy="226.9" r="2.1" fill="#ff0000" stroke="#000" stroke-width="1.0"/><circle cx="187.6" cy="195.4" r="2.1" fill="#ff0000" stroke="#000" stroke-width="1.0"/><circle cx="242.0" cy="240.1" r="2.1" fill="#ff0000" stroke="#000" stroke-width="1.0"/><circle cx="149.7" cy="153.4" r="2.1" fill="#ff0000" stroke="#000" stroke-width="1.0"/><circle cx="262.8" cy="255.4" r="2.1" fill="#ff0000" stroke="#000" stroke-width="1.0"/><circle cx="278.4" cy="264.0" r="2.1" fill="#ff0000" stroke="#000" stroke-width="1.0"/><circle cx="219.4" cy="228.4" r="2.1" fill="#ff0000" stroke="#000" stroke-width="1.0"/><circle cx="207.0" cy="212.2" r="2.1" fill="#ff0000" stroke="#000" stroke-width="1.0"/><circle cx="272.1" cy="258.2" r="2.1" fill="#ff0000" stroke="#000" stroke-width="1.0"/><circle cx="196.4" cy="202.9" r="2.1" fill="#ff0000" stroke="#000" stroke-width="1.0"/><circle cx="201.7" cy="206.9" r="2.1" fill="#ff0000" stroke="#000" stroke-width="1.0"/><circle cx="170.3" cy="173.1" r="2.1" fill="#ff0000" stroke="#000" stroke-width="1.0"/><circle cx="180.5" cy="184.8" r="2.1" fill="#ff0000" stroke="#000" stroke-width="1.0"/><circle cx="180.1" cy="184.9" r="2.1" fill="#ff0000" stroke="#000" stroke-width="1.0"/><circle cx="157.5" cy="162.1" r="2.1" fill="#ff0000" stroke="#000" stroke-width="1.0"/><circle cx="217.9" cy="225.5" r="2.1" fill="#ff0000" stroke="#000" stroke-width="1.0"/><circle cx="209.2" cy="215.7" r="2.1" fill="#ff0000" stroke="#000" stroke-width="1.0"/><circle cx="227.2" cy="231.9" r="2.1" fill="#ff0000" stroke="#000" stroke-width="1.0"/><circle cx="256.4" cy="247.5" r="2.1" fill="#ff0000" stroke="#000" stroke-width="1.0"/><circle cx="244.5" cy="244.8" r="2.1" fill="#ff0000" stroke="#000" stroke-width="1.0"/><circle cx="219.0" cy="226.8" r="2.1" fill="#ff0000" stroke="#000" stroke-width="1.0"/><circle cx="255.2" cy="249.4" r="2.1" fill="#ff0000" stroke="#000" stroke-width="1.0"/><circle cx="227.5" cy="229.2" r="2.1" fill="#ff0000" stroke="#000" stroke-width="1.0"/><circle cx="269.4" cy="256.8" r="2.1" fill="#ff0000" stroke="#000" stroke-width="1.0"/><circle cx="229.0" cy="232.2" r="2.1" fill="#ff0000" stroke="#000" stroke-width="1.0"/><circle cx="287.9" cy="272.0" r="2.1" fill="#ff0000" stroke="#000" stroke-width="1.0"/><circle cx="271.5" cy="259.0" r="2.1" fill="#ff0000" stroke="#000" stroke-width="1.0"/><circle cx="205.6" cy="211.5" r="2.1" fill="#ff0000" stroke="#000" stroke-width="1.0"/><circle cx="273.6" cy="259.1" r="2.1" fill="#ff0000" stroke="#000" stroke-width="1.0"/><circle cx="197.8" cy="202.0" r="2.1" fill="#ff0000" stroke="#000" stroke-width="1.0"/><circle cx="211.4" cy="220.1" r="2.1" fill="#ff0000" stroke="#000" stroke-width="1.0"/><circle cx="246.2" cy="241.7" r="2.1" fill="#ff0000" stroke="#000" stroke-width="1.0"/><circle cx="225.8" cy="231.4" r="2.1" fill="#ff0000" stroke="#000" stroke-width="1.0"/><circle cx="232.6" cy="234.8" r="2.1" fill="#ff0000" stroke="#000" stroke-width="1.0"/><circle cx="263.2" cy="253.3" r="2.1" fill="#ff0000" stroke="#000" stroke-width="1.0"/><circle cx="191.1" cy="197.5" r="2.1" fill="#ff0000" stroke="#000" stroke-width="1.0"/><circle cx="184.3" cy="189.5" r="2.1" fill="#ff0000" stroke="#000" stroke-width="1.0"/><circle cx="184.6" cy="190.2" r="2.1" fill="#ff0000" stroke="#000" stroke-width="1.0"/><circle cx="213.4" cy="220.7" r="2.1" fill="#ff0000" stroke="#000" stroke-width="1.0"/><circle cx="271.2" cy="258.7" r="2.1" fill="#ff0000" stroke="#000" stroke-width="1.0"/><circle cx="277.2" cy="263.5" r="2.1" fill="#ff0000" stroke="#000" stroke-width="1.0"/><circle cx="229.7" cy="231.5" r="2.1" fill="#ff0000" stroke="#000" stroke-width="1.0"/><circle cx="192.0" cy="201.0" r="2.1" fill="#ff0000" stroke="#000" stroke-width="1.0"/><circle cx="164.8" cy="169.4" r="2.1" fill="#ff0000" stroke="#000" stroke-width="1.0"/><circle cx="237.0" cy="235.0" r="2.1" fill="#ff0000" stroke="#000" stroke-width="1.0"/><circle cx="211.8" cy="216.2" r="2.1" fill="#ff0000" stroke="#000" stroke-width="1.0"/><circle cx="235.3" cy="236.2" r="2.1" fill="#ff0000" stroke="#000" stroke-width="1.0"/><circle cx="286.9" cy="267.9" r="2.1" fill="#ff0000" stroke="#000" stroke-width="1.0"/><circle cx="194.6" cy="201.7" r="2.1" fill="#ff0000" stroke="#000" stroke-width="1.0"/><circle cx="222.4" cy="226.9" r="2.1" fill="#ff0000" stroke="#000" stroke-width="1.0"/><circle cx="189.9" cy="196.7" r="2.1" fill="#ff0000" stroke="#000" stroke-width="1.0"/><circle cx="285.0" cy="268.8" r="2.1" fill="#ff0000" stroke="#000" stroke-width="1.0"/><circle cx="225.8" cy="229.7" r="2.1" fill="#ff0000" stroke="#000" stroke-width="1.0"/><circle cx="256.1" cy="251.5" r="2.1" fill="#ff0000" stroke="#000" stroke-width="1.0"/><circle cx="148.0" cy="151.3" r="2.1" fill="#ff0000" stroke="#000" stroke-width="1.0"/><circle cx="242.8" cy="238.2" r="2.1" fill="#ff0000" stroke="#000" stroke-width="1.0"/><circle cx="288.1" cy="270.8" r="2.1" fill="#ff0000" stroke="#000" stroke-width="1.0"/><circle cx="206.1" cy="211.6" r="2.1" fill="#ff0000" stroke="#000" stroke-width="1.0"/><circle cx="242.7" cy="239.9" r="2.1" fill="#ff0000" stroke="#000" stroke-width="1.0"/><circle cx="243.2" cy="242.4" r="2.1" fill="#ff0000" stroke="#000" stroke-width="1.0"/><circle cx="197.8" cy="205.1" r="2.1" fill="#ff0000" stroke="#000" stroke-width="1.0"/><circle cx="218.9" cy="228.1" r="2.1" fill="#ff0000" stroke="#000" stroke-width="1.0"/><circle cx="241.0" cy="239.1" r="2.1" fill="#ff0000" stroke="#000" stroke-width="1.0"/><circle cx="283.4" cy="266.4" r="2.1" fill="#ff0000" stroke="#000" stroke-width="1.0"/><circle cx="228.8" cy="230.7" r="2.1" fill="#ff0000" stroke="#000" stroke-width="1.0"/><circle cx="273.5" cy="259.8" r="2.1" fill="#ff0000" stroke="#000" stroke-width="1.0"/><circle cx="239.2" cy="238.3" r="2.1" fill="#ff0000" stroke="#000" stroke-width="1.0"/><circle cx="185.1" cy="192.3" r="2.1" fill="#ff0000" stroke="#000" stroke-width="1.0"/><circle cx="253.5" cy="247.8" r="2.1" fill="#ff0000" stroke="#000" stroke-width="1.0"/><circle cx="272.0" cy="257.8" r="2.1" fill="#ff0000" stroke="#000" stroke-width="1.0"/><circle cx="161.4" cy="163.8" r="2.1" fill="#ff0000" stroke="#000" stroke-width="1.0"/><circle cx="157.2" cy="159.2" r="2.1" fill="#ff0000" stroke="#000" stroke-width="1.0"/><circle cx="265.2" cy="255.0" r="2.1" fill="#ff0000" stroke="#000" stroke-width="1.0"/><circle cx="204.6" cy="209.2" r="2.1" fill="#ff0000" stroke="#000" stroke-width="1.0"/><circle cx="175.0" cy="179.6" r="2.1" fill="#ff0000" stroke="#000" stroke-width="1.0"/><circle cx="242.1" cy="240.9" r="2.1" fill="#ff0000" stroke="#000" stroke-width="1.0"/><circle cx="264.0" cy="252.9" r="2.1" fill="#ff0000" stroke="#000" stroke-width="1.0"/><circle cx="265.6" cy="253.7" r="2.1" fill="#ff0000" stroke="#000" stroke-width="1.0"/><circle cx="279.8" cy="266.4" r="2.1" fill="#ff0000" stroke="#000" stroke-width="1.0"/><circle cx="241.5" cy="241.6" r="2.1" fill="#ff0000" stroke="#000" stroke-width="1.0"/><circle cx="225.4" cy="228.5" r="2.1" fill="#ff0000" stroke="#000" stroke-width="1.0"/><circle cx="259.9" cy="251.6" r="2.1" fill="#ff0000" stroke="#000" stroke-width="1.0"/><circle cx="227.4" cy="232.0" r="2.1" fill="#ff0000" stroke="#000" stroke-width="1.0"/><circle cx="151.8" cy="154.1" r="2.1" fill="#ff0000" stroke="#000" stroke-width="1.0"/><circle cx="278.6" cy="263.5" r="2.1" fill="#ff0000" stroke="#000" stroke-width="1.0"/><circle cx="250.1" cy="247.1" r="2.1" fill="#ff0000" stroke="#000" stroke-width="1.0"/><circle cx="192.3" cy="200.0" r="2.1" fill="#ff0000" stroke="#000" stroke-width="1.0"/><circle cx="238.8" cy="239.8" r="2.1" fill="#ff0000" stroke="#000" stroke-width="1.0"/><circle cx="245.3" cy="242.5" r="2.1" fill="#ff0000" stroke="#000" stroke-width="1.0"/><circle cx="188.1" cy="192.3" r="2.1" fill="#ff0000" stroke="#000" stroke-width="1.0"/><circle cx="188.1" cy="193.1" r="2.1" fill="#ff0000" stroke="#000" stroke-width="1.0"/><circle cx="180.5" cy="183.7" r="2.1" fill="#ff0000" stroke="#000" stroke-width="1.0"/><circle cx="262.5" cy="251.8" r="2.1" fill="#ff0000" stroke="#000" stroke-width="1.0"/><circle cx="246.2" cy="243.5" r="2.1" fill="#ff0000" stroke="#000" stroke-width="1.0"/><circle cx="192.3" cy="199.4" r="2.1" fill="#ff0000" stroke="#000" stroke-width="1.0"/><circle cx="190.1" cy="196.7" r="2.1" fill="#ff0000" stroke="#000" stroke-width="1.0"/><circle cx="202.7" cy="210.7" r="2.1" fill="#ff0000" stroke="#000" stroke-width="1.0"/><circle cx="231.9" cy="233.3" r="2.1" fill="#ff0000" stroke="#000" stroke-width="1.0"/><circle cx="203.0" cy="211.7" r="2.1" fill="#ff0000" stroke="#000" stroke-width="1.0"/><circle cx="194.4" cy="202.4" r="2.1" fill="#ff0000" stroke="#000" stroke-width="1.0"/><circle cx="245.6" cy="245.1" r="2.1" fill="#ff0000" stroke="#000" stroke-width="1.0"/><circle cx="184.6" cy="192.9" r="2.1" fill="#ff0000" stroke="#000" stroke-width="1.0"/><circle cx="230.4" cy="231.8" r="2.1" fill="#ff0000" stroke="#000" stroke-width="1.0"/><circle cx="267.6" cy="254.7" r="2.1" fill="#ff0000" stroke="#000" stroke-width="1.0"/><circle cx="130.6" cy="140.6" r="2.2" fill="#ff0000" stroke="#000" stroke-width="0.9"/><circle cx="137.3" cy="144.8" r="2.2" fill="#ff0000" stroke="#000" stroke-width="0.9"/><circle cx="143.4" cy="148.4" r="2.2" fill="#ff0000" stroke="#000" stroke-width="0.9"/><circle cx="146.7" cy="148.9" r="2.2" fill="#ff0000" stroke="#000" stroke-width="0.9"/><circle cx="150.1" cy="151.2" r="2.2" fill="#ff0000" stroke="#000" stroke-width="0.9"/><circle cx="145.1" cy="151.7" r="2.2" fill="#ff0000" stroke="#000" stroke-width="0.9"/><circle cx="149.5" cy="154.2" r="2.2" fill="#ff0000" stroke="#000" stroke-width="0.9"/><circle cx="155.1" cy="153.7" r="2.2" fill="#ff0000" stroke="#000" stroke-width="0.9"/><circle cx="153.4" cy="157.3" r="2.2" fill="#ff0000" stroke="#000" stroke-width="0.9"/><circle cx="154.5" cy="160.1" r="2.2" fill="#ff0000" stroke="#000" stroke-width="0.9"/><circle cx="157.9" cy="162.3" r="2.2" fill="#ff0000" stroke="#000" stroke-width="0.9"/><circle cx="155.0" cy="153.9" r="2.2" fill="#ff0000" stroke="#000" stroke-width="0.9"/><circle cx="151.1" cy="154.5" r="2.2" fill="#ff0000" stroke="#000" stroke-width="0.9"/><circle cx="154.5" cy="158.4" r="2.2" fill="#ff0000" stroke="#000" stroke-width="0.9"/><circle cx="158.4" cy="162.2" r="2.2" fill="#ff0000" stroke="#000" stroke-width="0.9"/><circle cx="161.1" cy="165.0" r="2.2" fill="#ff0000" stroke="#000" stroke-width="0.9"/><circle cx="175.1" cy="162.8" r="2.2" fill="#ff0000" stroke="#000" stroke-width="0.9"/><circle cx="172.8" cy="166.7" r="2.2" fill="#ff0000" stroke="#000" stroke-width="0.9"/><circle cx="166.1" cy="168.9" r="2.2" fill="#ff0000" stroke="#000" stroke-width="0.9"/><circle cx="163.9" cy="171.7" r="2.2" fill="#ff0000" stroke="#000" stroke-width="0.9"/><circle cx="166.7" cy="173.4" r="2.2" fill="#ff0000" stroke="#000" stroke-width="0.9"/><circle cx="170.0" cy="175.6" r="2.2" fill="#ff0000" stroke="#000" stroke-width="0.9"/><circle cx="173.9" cy="179.5" r="2.2" fill="#ff0000" stroke="#000" stroke-width="0.9"/><circle cx="170.6" cy="180.1" r="2.2" fill="#ff0000" stroke="#000" stroke-width="0.9"/><circle cx="177.3" cy="181.7" r="2.2" fill="#ff0000" stroke="#000" stroke-width="0.9"/><circle cx="173.4" cy="183.4" r="2.2" fill="#ff0000" stroke="#000" stroke-width="0.9"/><circle cx="177.8" cy="186.2" r="2.2" fill="#ff0000" stroke="#000" stroke-width="0.9"/><circle cx="185.6" cy="187.9" r="2.2" fill="#ff0000" stroke="#000" stroke-width="0.9"/><circle cx="191.8" cy="184.0" r="2.2" fill="#ff0000" stroke="#000" stroke-width="0.9"/><circle cx="181.2" cy="189.0" r="2.2" fill="#ff0000" stroke="#000" stroke-width="0.9"/><circle cx="168.0" cy="177.0" r="2.2" fill="#ff0000" stroke="#000" stroke-width="0.9"/><circle cx="160.0" cy="168.0" r="2.2" fill="#ff0000" stroke="#000" stroke-width="0.9"/><circle cx="191.7" cy="184.2" r="2.2" fill="#ff0000" stroke="#000" stroke-width="0.9"/><circle cx="185.6" cy="187.8" r="2.2" fill="#ff0000" stroke="#000" stroke-width="0.9"/><circle cx="181.7" cy="189.5" r="2.2" fill="#ff0000" stroke="#000" stroke-width="0.9"/><circle cx="187.2" cy="193.9" r="2.2" fill="#ff0000" stroke="#000" stroke-width="0.9"/><circle cx="183.3" cy="196.1" r="2.2" fill="#ff0000" stroke="#000" stroke-width="0.9"/><circle cx="190.0" cy="197.8" r="2.2" fill="#ff0000" stroke="#000" stroke-width="0.9"/><circle cx="188.9" cy="201.2" r="2.2" fill="#ff0000" stroke="#000" stroke-width="0.9"/><circle cx="192.2" cy="202.8" r="2.2" fill="#ff0000" stroke="#000" stroke-width="0.9"/><circle cx="193.9" cy="207.3" r="2.2" fill="#ff0000" stroke="#000" stroke-width="0.9"/><circle cx="198.4" cy="206.7" r="2.2" fill="#ff0000" stroke="#000" stroke-width="0.9"/><circle cx="202.8" cy="209.0" r="2.2" fill="#ff0000" stroke="#000" stroke-width="0.9"/><circle cx="206.7" cy="204.5" r="2.2" fill="#ff0000" stroke="#000" stroke-width="0.9"/><circle cx="199.5" cy="210.1" r="2.2" fill="#ff0000" stroke="#000" stroke-width="0.9"/><circle cx="193.9" cy="212.3" r="2.2" fill="#ff0000" stroke="#000" stroke-width="0.9"/><circle cx="197.8" cy="213.4" r="2.2" fill="#ff0000" stroke="#000" stroke-width="0.9"/><circle cx="203.9" cy="213.4" r="2.2" fill="#ff0000" stroke="#000" stroke-width="0.9"/><circle cx="201.2" cy="215.6" r="2.2" fill="#ff0000" stroke="#000" stroke-width="0.9"/><circle cx="206.7" cy="216.7" r="2.2" fill="#ff0000" stroke="#000" stroke-width="0.9"/><circle cx="210.1" cy="218.4" r="2.2" fill="#ff0000" stroke="#000" stroke-width="0.9"/><circle cx="180.0" cy="192.2" r="2.2" fill="#ff0000" stroke="#000" stroke-width="0.9"/><circle cx="186.0" cy="190.0" r="2.2" fill="#ff0000" stroke="#000" stroke-width="0.9"/><circle cx="196.0" cy="209.0" r="2.2" fill="#ff0000" stroke="#000" stroke-width="0.9"/><circle cx="210.0" cy="219.5" r="2.2" fill="#ff0000" stroke="#000" stroke-width="0.9"/><circle cx="212.8" cy="222.8" r="2.2" fill="#ff0000" stroke="#000" stroke-width="0.9"/><circle cx="216.7" cy="223.4" r="2.2" fill="#ff0000" stroke="#000" stroke-width="0.9"/><circle cx="220.0" cy="222.8" r="2.2" fill="#ff0000" stroke="#000" stroke-width="0.9"/><circle cx="214.5" cy="225.6" r="2.2" fill="#ff0000" stroke="#000" stroke-width="0.9"/><circle cx="218.4" cy="227.3" r="2.2" fill="#ff0000" stroke="#000" stroke-width="0.9"/><circle cx="224.5" cy="225.6" r="2.2" fill="#ff0000" stroke="#000" stroke-width="0.9"/><circle cx="228.4" cy="226.7" r="2.2" fill="#ff0000" stroke="#000" stroke-width="0.9"/><circle cx="222.2" cy="229.0" r="2.2" fill="#ff0000" stroke="#000" stroke-width="0.9"/><circle cx="226.1" cy="231.2" r="2.2" fill="#ff0000" stroke="#000" stroke-width="0.9"/><circle cx="229.5" cy="232.3" r="2.2" fill="#ff0000" stroke="#000" stroke-width="0.9"/><circle cx="232.8" cy="235.1" r="2.2" fill="#ff0000" stroke="#000" stroke-width="0.9"/><circle cx="226.7" cy="234.5" r="2.2" fill="#ff0000" stroke="#000" stroke-width="0.9"/><circle cx="231.2" cy="237.9" r="2.2" fill="#ff0000" stroke="#000" stroke-width="0.9"/><circle cx="236.2" cy="237.9" r="2.2" fill="#ff0000" stroke="#000" stroke-width="0.9"/><circle cx="240.1" cy="239.0" r="2.2" fill="#ff0000" stroke="#000" stroke-width="0.9"/><circle cx="237.8" cy="241.7" r="2.2" fill="#ff0000" stroke="#000" stroke-width="0.9"/><circle cx="243.4" cy="242.3" r="2.2" fill="#ff0000" stroke="#000" stroke-width="0.9"/><circle cx="246.7" cy="243.4" r="2.2" fill="#ff0000" stroke="#000" stroke-width="0.9"/><circle cx="237.3" cy="223.4" r="2.2" fill="#ff0000" stroke="#000" stroke-width="0.9"/><circle cx="249.0" cy="230.6" r="2.2" fill="#ff0000" stroke="#000" stroke-width="0.9"/><circle cx="258.4" cy="237.3" r="2.2" fill="#ff0000" stroke="#000" stroke-width="0.9"/><circle cx="249.5" cy="230.6" r="2.2" fill="#ff0000" stroke="#000" stroke-width="0.9"/><circle cx="258.9" cy="237.2" r="2.2" fill="#ff0000" stroke="#000" stroke-width="0.9"/><circle cx="240.0" cy="241.7" r="2.2" fill="#ff0000" stroke="#000" stroke-width="0.9"/><circle cx="243.3" cy="242.8" r="2.2" fill="#ff0000" stroke="#000" stroke-width="0.9"/><circle cx="246.7" cy="244.5" r="2.2" fill="#ff0000" stroke="#000" stroke-width="0.9"/><circle cx="250.0" cy="245.6" r="2.2" fill="#ff0000" stroke="#000" stroke-width="0.9"/><circle cx="254.5" cy="244.5" r="2.2" fill="#ff0000" stroke="#000" stroke-width="0.9"/><circle cx="256.7" cy="247.3" r="2.2" fill="#ff0000" stroke="#000" stroke-width="0.9"/><circle cx="252.2" cy="249.5" r="2.2" fill="#ff0000" stroke="#000" stroke-width="0.9"/><circle cx="255.6" cy="251.7" r="2.2" fill="#ff0000" stroke="#000" stroke-width="0.9"/><circle cx="261.7" cy="251.7" r="2.2" fill="#ff0000" stroke="#000" stroke-width="0.9"/><circle cx="266.7" cy="246.2" r="2.2" fill="#ff0000" stroke="#000" stroke-width="0.9"/><circle cx="278.4" cy="248.4" r="2.2" fill="#ff0000" stroke="#000" stroke-width="0.9"/><circle cx="266.7" cy="254.5" r="2.2" fill="#ff0000" stroke="#000" stroke-width="0.9"/><circle cx="260.0" cy="255.1" r="2.2" fill="#ff0000" stroke="#000" stroke-width="0.9"/><circle cx="270.1" cy="258.4" r="2.2" fill="#ff0000" stroke="#000" stroke-width="0.9"/><circle cx="274.0" cy="256.2" r="2.2" fill="#ff0000" stroke="#000" stroke-width="0.9"/><circle cx="273.4" cy="260.6" r="2.2" fill="#ff0000" stroke="#000" stroke-width="0.9"/><circle cx="278.4" cy="263.4" r="2.2" fill="#ff0000" stroke="#000" stroke-width="0.9"/><circle cx="265.0" cy="258.4" r="2.2" fill="#ff0000" stroke="#000" stroke-width="0.9"/><circle cx="246.7" cy="248.4" r="2.2" fill="#ff0000" stroke="#000" stroke-width="0.9"/><circle cx="267.2" cy="246.1" r="2.2" fill="#ff0000" stroke="#000" stroke-width="0.9"/><circle cx="277.8" cy="248.4" r="2.2" fill="#ff0000" stroke="#000" stroke-width="0.9"/><circle cx="266.7" cy="254.5" r="2.2" fill="#ff0000" stroke="#000" stroke-width="0.9"/><circle cx="270.0" cy="258.4" r="2.2" fill="#ff0000" stroke="#000" stroke-width="0.9"/><circle cx="273.9" cy="256.1" r="2.2" fill="#ff0000" stroke="#000" stroke-width="0.9"/><circle cx="272.8" cy="261.2" r="2.2" fill="#ff0000" stroke="#000" stroke-width="0.9"/><circle cx="267.2" cy="261.2" r="2.2" fill="#ff0000" stroke="#000" stroke-width="0.9"/><circle cx="277.8" cy="265.6" r="2.2" fill="#ff0000" stroke="#000" stroke-width="0.9"/><circle cx="278.9" cy="267.8" r="2.2" fill="#ff0000" stroke="#000" stroke-width="0.9"/><circle cx="283.4" cy="267.3" r="2.2" fill="#ff0000" stroke="#000" stroke-width="0.9"/><circle cx="284.5" cy="269.5" r="2.2" fill="#ff0000" stroke="#000" stroke-width="0.9"/><circle cx="287.3" cy="271.7" r="2.2" fill="#ff0000" stroke="#000" stroke-width="0.9"/><circle cx="297.9" cy="262.3" r="2.2" fill="#ff0000" stroke="#000" stroke-width="0.9"/><circle cx="296.7" cy="270.6" r="2.2" fill="#ff0000" stroke="#000" stroke-width="0.9"/><circle cx="292.8" cy="275.1" r="2.2" fill="#ff0000" stroke="#000" stroke-width="0.9"/><circle cx="304.0" cy="282.8" r="2.2" fill="#ff0000" stroke="#000" stroke-width="0.9"/><circle cx="174.3" cy="162.6" r="2.2" fill="#ff0000" stroke="#000" stroke-width="0.9"/><polygon points="216.40,91.50 218.20,95.82 222.87,96.20 219.31,99.25 220.40,103.80 216.40,101.36 212.40,103.80 213.49,99.25 209.93,96.20 214.60,95.82" fill="#ff0000" stroke="#000" stroke-width="0.9" stroke-linejoin="miter"/>
<circle cx="616.7" cy="146.0" r="3.15" fill="#bdbdbd"/><circle cx="616.1" cy="153.4" r="3.15" fill="#bdbdbd"/><circle cx="643.5" cy="150.5" r="3.15" fill="#bdbdbd"/><circle cx="601.2" cy="169.0" r="3.15" fill="#bdbdbd"/><circle cx="606.3" cy="165.6" r="3.15" fill="#bdbdbd"/><circle cx="608.5" cy="169.6" r="3.15" fill="#bdbdbd"/><circle cx="620.1" cy="164.5" r="3.15" fill="#bdbdbd"/><circle cx="622.3" cy="167.9" r="3.15" fill="#bdbdbd"/><circle cx="627.2" cy="169.0" r="3.15" fill="#bdbdbd"/><circle cx="634.1" cy="169.6" r="3.15" fill="#bdbdbd"/><circle cx="615.6" cy="173.4" r="3.15" fill="#bdbdbd"/><circle cx="622.3" cy="175.7" r="3.15" fill="#bdbdbd"/><circle cx="607.8" cy="176.8" r="3.15" fill="#bdbdbd"/><circle cx="612.3" cy="180.1" r="3.15" fill="#bdbdbd"/><circle cx="616.7" cy="183.5" r="3.15" fill="#bdbdbd"/><circle cx="601.2" cy="185.7" r="3.15" fill="#bdbdbd"/><circle cx="606.7" cy="186.8" r="3.15" fill="#bdbdbd"/><circle cx="603.4" cy="192.4" r="3.15" fill="#bdbdbd"/><circle cx="611.2" cy="190.1" r="3.15" fill="#bdbdbd"/><circle cx="607.8" cy="194.6" r="3.15" fill="#bdbdbd"/><circle cx="629.0" cy="192.4" r="3.15" fill="#bdbdbd"/><circle cx="632.3" cy="196.8" r="3.15" fill="#bdbdbd"/><circle cx="637.9" cy="195.7" r="3.15" fill="#bdbdbd"/><circle cx="641.2" cy="196.8" r="3.15" fill="#bdbdbd"/><circle cx="611.2" cy="201.3" r="3.15" fill="#bdbdbd"/><circle cx="624.5" cy="202.4" r="3.15" fill="#bdbdbd"/><circle cx="613.4" cy="206.8" r="3.15" fill="#bdbdbd"/><circle cx="619.0" cy="205.7" r="3.15" fill="#bdbdbd"/><circle cx="604.6" cy="177.8" r="3.15" fill="#bdbdbd"/><circle cx="611.3" cy="180.0" r="3.15" fill="#bdbdbd"/><circle cx="605.7" cy="184.5" r="3.15" fill="#bdbdbd"/><circle cx="616.8" cy="183.4" r="3.15" fill="#bdbdbd"/><circle cx="612.4" cy="191.2" r="3.15" fill="#bdbdbd"/><circle cx="628.0" cy="193.4" r="3.15" fill="#bdbdbd"/><circle cx="609.0" cy="199.0" r="3.15" fill="#bdbdbd"/><circle cx="619.1" cy="200.1" r="3.15" fill="#bdbdbd"/><circle cx="624.6" cy="202.3" r="3.15" fill="#bdbdbd"/><circle cx="613.5" cy="205.7" r="3.15" fill="#bdbdbd"/><circle cx="620.2" cy="207.9" r="3.15" fill="#bdbdbd"/><circle cx="629.1" cy="207.9" r="3.15" fill="#bdbdbd"/><circle cx="625.7" cy="214.6" r="3.15" fill="#bdbdbd"/><circle cx="631.3" cy="219.0" r="3.15" fill="#bdbdbd"/><circle cx="602.3" cy="186.7" r="3.15" fill="#bdbdbd"/><circle cx="603.4" cy="191.7" r="3.15" fill="#bdbdbd"/><circle cx="609.0" cy="195.0" r="3.15" fill="#bdbdbd"/><circle cx="611.2" cy="198.4" r="3.15" fill="#bdbdbd"/><circle cx="610.1" cy="201.1" r="3.15" fill="#bdbdbd"/><circle cx="613.4" cy="206.2" r="3.15" fill="#bdbdbd"/><circle cx="617.9" cy="204.5" r="3.15" fill="#bdbdbd"/><circle cx="616.8" cy="208.4" r="3.15" fill="#bdbdbd"/><circle cx="630.0" cy="217.2" r="3.15" fill="#bdbdbd"/><circle cx="632.3" cy="219.5" r="3.15" fill="#bdbdbd"/><circle cx="636.7" cy="226.1" r="3.15" fill="#bdbdbd"/><circle cx="645.6" cy="225.0" r="3.15" fill="#bdbdbd"/><circle cx="649.0" cy="227.3" r="3.15" fill="#bdbdbd"/><circle cx="651.8" cy="225.6" r="3.15" fill="#bdbdbd"/><circle cx="655.7" cy="220.6" r="3.15" fill="#bdbdbd"/><circle cx="657.9" cy="228.4" r="3.15" fill="#bdbdbd"/><circle cx="623.3" cy="202.2" r="3.15" fill="#bdbdbd"/><circle cx="628.9" cy="210.0" r="3.15" fill="#bdbdbd"/><circle cx="633.4" cy="221.2" r="3.15" fill="#bdbdbd"/><circle cx="641.2" cy="221.2" r="3.15" fill="#bdbdbd"/><circle cx="654.5" cy="221.2" r="3.15" fill="#bdbdbd"/><circle cx="659.0" cy="224.5" r="3.15" fill="#bdbdbd"/><circle cx="650.1" cy="227.8" r="3.15" fill="#bdbdbd"/><circle cx="661.2" cy="230.1" r="3.15" fill="#bdbdbd"/><circle cx="672.3" cy="230.1" r="3.15" fill="#bdbdbd"/><circle cx="672.3" cy="235.6" r="3.15" fill="#bdbdbd"/><circle cx="676.8" cy="241.2" r="3.15" fill="#bdbdbd"/><circle cx="676.8" cy="247.9" r="3.15" fill="#bdbdbd"/><circle cx="683.5" cy="250.1" r="3.15" fill="#bdbdbd"/><circle cx="686.8" cy="255.7" r="3.15" fill="#bdbdbd"/><circle cx="693.5" cy="261.2" r="3.15" fill="#bdbdbd"/><circle cx="671.7" cy="236.7" r="3.15" fill="#bdbdbd"/><circle cx="677.3" cy="240.0" r="3.15" fill="#bdbdbd"/><circle cx="677.8" cy="248.9" r="3.15" fill="#bdbdbd"/><circle cx="683.4" cy="251.7" r="3.15" fill="#bdbdbd"/><circle cx="685.6" cy="256.7" r="3.15" fill="#bdbdbd"/><circle cx="675.6" cy="241.1" r="3.15" fill="#bdbdbd"/><circle cx="683.4" cy="253.4" r="3.15" fill="#bdbdbd"/><circle cx="693.4" cy="263.4" r="3.15" fill="#bdbdbd"/><circle cx="701.2" cy="280.1" r="3.15" fill="#bdbdbd"/><circle cx="730.4" cy="294.2" r="3.15" fill="#bdbdbd"/><circle cx="725.5" cy="301.9" r="3.15" fill="#bdbdbd"/><circle cx="700.4" cy="279.6" r="3.15" fill="#bdbdbd"/><circle cx="685.0" cy="252.7" r="3.15" fill="#bdbdbd"/><path d="M712.00,296.00 C710.83,295.00 710.33,294.67 705.00,290.00 C699.67,285.33 689.17,275.33 680.00,268.00 C670.83,260.67 660.00,253.00 650.00,246.00 C640.00,239.00 630.00,232.83 620.00,226.00 C610.00,219.17 600.00,211.67 590.00,205.00 C580.00,198.33 568.88,192.75 560.00,186.00 C551.12,179.25 542.92,172.23 536.70,164.50 C530.48,156.77 525.73,145.38 522.70,139.60 C519.67,133.82 519.90,133.28 518.50,129.80 C517.10,126.32 515.58,122.18 514.30,118.70 C513.02,115.22 511.85,112.85 510.80,108.90 C509.75,104.95 508.70,98.98 508.00,95.00 C507.30,91.02 506.80,88.33 506.60,85.00 C506.40,81.67 506.53,78.50 506.80,75.00 C507.07,71.50 507.62,67.68 508.20,64.00 C508.78,60.32 509.48,56.38 510.30,52.90 C511.12,49.42 512.28,45.78 513.10,43.10 C513.92,40.42 514.85,37.85 515.20,36.80 M515.20,36.80 C514.15,37.03 510.77,37.73 508.90,38.20 C507.03,38.67 504.82,39.37 504.00,39.60 M504.00,39.60 C504.82,39.30 507.43,38.38 508.90,37.80 C510.37,37.22 511.87,36.83 512.80,36.10 C513.73,35.37 513.40,35.25 514.50,33.40 C515.60,31.55 517.43,27.88 519.40,25.00 C521.37,22.12 524.95,17.85 526.30,16.10 C527.65,14.35 527.30,14.77 527.50,14.50" fill="none" stroke="#ff0000" stroke-width="1.8" stroke-linejoin="round" stroke-linecap="round"/><path d="M712.00,294.00 C706.67,290.00 690.33,278.00 680.00,270.00 C669.67,262.00 657.95,252.20 650.00,246.00 C642.05,239.80 638.03,236.48 632.30,232.80 C626.57,229.12 622.65,228.53 615.60,223.90 C608.55,219.27 599.27,211.48 590.00,205.00 C580.73,198.52 567.58,190.63 560.00,185.00 C552.42,179.37 548.93,176.10 544.50,171.20 C540.07,166.30 536.33,160.40 533.40,155.60 C530.47,150.80 528.45,146.00 526.90,142.40 C525.35,138.80 525.15,137.25 524.10,134.00 C523.05,130.75 521.53,127.08 520.60,122.90 C519.67,118.72 518.97,113.55 518.50,108.90 C518.03,104.25 517.57,99.82 517.80,95.00 C518.03,90.18 519.40,83.33 519.90,80.00 C520.40,76.67 520.18,77.43 520.80,75.00 C521.42,72.57 522.68,68.40 523.60,65.40 C524.52,62.40 525.62,58.75 526.30,57.00 C526.98,55.25 527.47,55.25 527.70,54.90 M527.70,54.90 C526.58,55.17 523.20,56.03 521.00,56.50 C518.80,56.97 515.58,57.50 514.50,57.70 M514.50,57.70 C515.42,57.42 518.38,56.47 520.00,56.00 C521.62,55.53 522.80,56.12 524.20,54.90 C525.60,53.68 527.02,50.53 528.40,48.70 C529.78,46.87 530.65,45.85 532.50,43.90 C534.35,41.95 536.93,39.20 539.50,37.00 C542.07,34.80 544.88,32.57 547.90,30.70 C550.92,28.83 554.13,27.07 557.60,25.80 C561.07,24.53 564.52,23.78 568.70,23.10 C572.88,22.42 577.48,21.93 582.70,21.70 C587.92,21.47 591.62,21.48 600.00,21.70 C608.38,21.92 618.78,22.10 633.00,23.00 C647.22,23.90 669.63,25.72 685.30,27.10 C700.97,28.48 716.50,29.90 727.00,31.30 C737.50,32.70 744.75,34.80 748.30,35.50" fill="none" stroke="#0000ff" stroke-width="1.8" stroke-linejoin="round" stroke-linecap="round"/><path d="M507.2,38.9 L504.4,39.7" stroke="#ff0000" stroke-width="2.8" stroke-linecap="round" fill="none"/><path d="M518,57 L514.8,57.7" stroke="#0000ff" stroke-width="2.8" stroke-linecap="round" fill="none"/><circle cx="613.6" cy="217.3" r="3.6" fill="#0000ff" stroke="#000" stroke-width="0.8"/><circle cx="615.3" cy="216.9" r="3.6" fill="#0000ff" stroke="#000" stroke-width="0.8"/><circle cx="619.2" cy="216.6" r="3.6" fill="#0000ff" stroke="#000" stroke-width="0.8"/><circle cx="616.8" cy="217.3" r="3.6" fill="#0000ff" stroke="#000" stroke-width="0.8"/><circle cx="618.8" cy="216.4" r="3.6" fill="#0000ff" stroke="#000" stroke-width="0.8"/><circle cx="618.9" cy="214.7" r="3.6" fill="#0000ff" stroke="#000" stroke-width="0.8"/><circle cx="625.2" cy="222.7" r="3.6" fill="#0000ff" stroke="#000" stroke-width="0.8"/><circle cx="623.7" cy="219.7" r="3.6" fill="#0000ff" stroke="#000" stroke-width="0.8"/><circle cx="619.0" cy="222.2" r="3.6" fill="#0000ff" stroke="#000" stroke-width="0.8"/><circle cx="618.8" cy="219.5" r="3.6" fill="#0000ff" stroke="#000" stroke-width="0.8"/><circle cx="642.5" cy="231.1" r="3.6" fill="#0000ff" stroke="#000" stroke-width="0.8"/><circle cx="641.9" cy="232.3" r="3.6" fill="#0000ff" stroke="#000" stroke-width="0.8"/><circle cx="634.9" cy="235.4" r="3.6" fill="#0000ff" stroke="#000" stroke-width="0.8"/><circle cx="635.7" cy="238.9" r="3.6" fill="#0000ff" stroke="#000" stroke-width="0.8"/><circle cx="641.8" cy="241.0" r="3.6" fill="#0000ff" stroke="#000" stroke-width="0.8"/><circle cx="644.1" cy="240.0" r="3.6" fill="#0000ff" stroke="#000" stroke-width="0.8"/><circle cx="646.9" cy="236.2" r="3.6" fill="#0000ff" stroke="#000" stroke-width="0.8"/><circle cx="644.5" cy="236.9" r="3.6" fill="#0000ff" stroke="#000" stroke-width="0.8"/><circle cx="647.1" cy="243.6" r="3.6" fill="#0000ff" stroke="#000" stroke-width="0.8"/><circle cx="645.3" cy="244.4" r="3.6" fill="#0000ff" stroke="#000" stroke-width="0.8"/><circle cx="653.2" cy="241.8" r="3.6" fill="#0000ff" stroke="#000" stroke-width="0.8"/><circle cx="654.9" cy="243.8" r="3.6" fill="#0000ff" stroke="#000" stroke-width="0.8"/><circle cx="655.5" cy="246.6" r="3.6" fill="#0000ff" stroke="#000" stroke-width="0.8"/><circle cx="656.9" cy="248.1" r="3.6" fill="#0000ff" stroke="#000" stroke-width="0.8"/><circle cx="653.4" cy="246.2" r="3.6" fill="#0000ff" stroke="#000" stroke-width="0.8"/><circle cx="654.7" cy="245.4" r="3.6" fill="#0000ff" stroke="#000" stroke-width="0.8"/><circle cx="651.8" cy="241.9" r="3.6" fill="#0000ff" stroke="#000" stroke-width="0.8"/><circle cx="650.5" cy="240.5" r="3.6" fill="#0000ff" stroke="#000" stroke-width="0.8"/><circle cx="683.3" cy="268.1" r="3.6" fill="#0000ff" stroke="#000" stroke-width="0.8"/><circle cx="686.9" cy="267.7" r="3.6" fill="#0000ff" stroke="#000" stroke-width="0.8"/><circle cx="680.8" cy="267.1" r="3.6" fill="#0000ff" stroke="#000" stroke-width="0.8"/><circle cx="679.9" cy="268.5" r="3.6" fill="#0000ff" stroke="#000" stroke-width="0.8"/><circle cx="673.4" cy="263.8" r="3.6" fill="#0000ff" stroke="#000" stroke-width="0.8"/><circle cx="674.7" cy="266.2" r="3.6" fill="#0000ff" stroke="#000" stroke-width="0.8"/><circle cx="526.2" cy="108.5" r="3.6" fill="#0000ff" stroke="#000" stroke-width="0.8"/><circle cx="527.3" cy="115.2" r="3.6" fill="#0000ff" stroke="#000" stroke-width="0.8"/><circle cx="519.2" cy="116.6" r="3.6" fill="#0000ff" stroke="#000" stroke-width="0.8"/><circle cx="516.1" cy="120.5" r="3.6" fill="#0000ff" stroke="#000" stroke-width="0.8"/><circle cx="527.5" cy="127.7" r="3.6" fill="#0000ff" stroke="#000" stroke-width="0.8"/><circle cx="525.5" cy="141.7" r="3.6" fill="#0000ff" stroke="#000" stroke-width="0.8"/><circle cx="525.0" cy="141.7" r="3.6" fill="#0000ff" stroke="#000" stroke-width="0.8"/><circle cx="531.1" cy="150.6" r="3.6" fill="#0000ff" stroke="#000" stroke-width="0.8"/><circle cx="536.1" cy="161.7" r="3.6" fill="#0000ff" stroke="#000" stroke-width="0.8"/><circle cx="555.6" cy="162.8" r="3.6" fill="#0000ff" stroke="#000" stroke-width="0.8"/><circle cx="540.6" cy="168.4" r="3.6" fill="#0000ff" stroke="#000" stroke-width="0.8"/><circle cx="546.7" cy="172.3" r="3.6" fill="#0000ff" stroke="#000" stroke-width="0.8"/><circle cx="542.3" cy="175.6" r="3.6" fill="#0000ff" stroke="#000" stroke-width="0.8"/><circle cx="538.4" cy="146.7" r="3.6" fill="#0000ff" stroke="#000" stroke-width="0.8"/><circle cx="541.1" cy="168.9" r="3.6" fill="#0000ff" stroke="#000" stroke-width="0.8"/><circle cx="544.5" cy="172.8" r="3.6" fill="#0000ff" stroke="#000" stroke-width="0.8"/><circle cx="542.2" cy="179.5" r="3.6" fill="#0000ff" stroke="#000" stroke-width="0.8"/><circle cx="563.9" cy="182.3" r="3.6" fill="#0000ff" stroke="#000" stroke-width="0.8"/><circle cx="553.4" cy="191.2" r="3.6" fill="#0000ff" stroke="#000" stroke-width="0.8"/><circle cx="577.9" cy="196.2" r="3.6" fill="#0000ff" stroke="#000" stroke-width="0.8"/><circle cx="584.5" cy="199.0" r="3.6" fill="#0000ff" stroke="#000" stroke-width="0.8"/><circle cx="586.8" cy="201.2" r="3.6" fill="#0000ff" stroke="#000" stroke-width="0.8"/><circle cx="581.2" cy="201.7" r="3.6" fill="#0000ff" stroke="#000" stroke-width="0.8"/><circle cx="548.0" cy="180.0" r="3.6" fill="#0000ff" stroke="#000" stroke-width="0.8"/><circle cx="557.0" cy="189.0" r="3.6" fill="#0000ff" stroke="#000" stroke-width="0.8"/><circle cx="577.8" cy="196.1" r="3.6" fill="#0000ff" stroke="#000" stroke-width="0.8"/><circle cx="584.5" cy="197.2" r="3.6" fill="#0000ff" stroke="#000" stroke-width="0.8"/><circle cx="585.6" cy="201.7" r="3.6" fill="#0000ff" stroke="#000" stroke-width="0.8"/><circle cx="591.2" cy="200.6" r="3.6" fill="#0000ff" stroke="#000" stroke-width="0.8"/><circle cx="579.5" cy="202.8" r="3.6" fill="#0000ff" stroke="#000" stroke-width="0.8"/><circle cx="583.9" cy="207.8" r="3.6" fill="#0000ff" stroke="#000" stroke-width="0.8"/><circle cx="590.6" cy="212.8" r="3.6" fill="#0000ff" stroke="#000" stroke-width="0.8"/><circle cx="596.2" cy="214.0" r="3.6" fill="#0000ff" stroke="#000" stroke-width="0.8"/><circle cx="615.7" cy="193.9" r="3.6" fill="#0000ff" stroke="#000" stroke-width="0.8"/><circle cx="614.5" cy="219.0" r="3.6" fill="#0000ff" stroke="#000" stroke-width="0.8"/><circle cx="619.0" cy="217.3" r="3.6" fill="#0000ff" stroke="#000" stroke-width="0.8"/><circle cx="608.0" cy="216.0" r="3.6" fill="#0000ff" stroke="#000" stroke-width="0.8"/><circle cx="621.1" cy="216.7" r="3.6" fill="#0000ff" stroke="#000" stroke-width="0.8"/><circle cx="625.6" cy="221.1" r="3.6" fill="#0000ff" stroke="#000" stroke-width="0.8"/><circle cx="621.1" cy="225.6" r="3.6" fill="#0000ff" stroke="#000" stroke-width="0.8"/><circle cx="618.4" cy="220.0" r="3.6" fill="#0000ff" stroke="#000" stroke-width="0.8"/><circle cx="637.3" cy="230.0" r="3.6" fill="#0000ff" stroke="#000" stroke-width="0.8"/><circle cx="640.1" cy="233.4" r="3.6" fill="#0000ff" stroke="#000" stroke-width="0.8"/><circle cx="636.7" cy="237.3" r="3.6" fill="#0000ff" stroke="#000" stroke-width="0.8"/><circle cx="643.4" cy="240.6" r="3.6" fill="#0000ff" stroke="#000" stroke-width="0.8"/><circle cx="646.7" cy="238.4" r="3.6" fill="#0000ff" stroke="#000" stroke-width="0.8"/><circle cx="646.2" cy="244.0" r="3.6" fill="#0000ff" stroke="#000" stroke-width="0.8"/><circle cx="653.4" cy="242.8" r="3.6" fill="#0000ff" stroke="#000" stroke-width="0.8"/><circle cx="656.8" cy="246.2" r="3.6" fill="#0000ff" stroke="#000" stroke-width="0.8"/><circle cx="652.3" cy="247.3" r="3.6" fill="#0000ff" stroke="#000" stroke-width="0.8"/><circle cx="639.0" cy="215.0" r="3.6" fill="#0000ff" stroke="#000" stroke-width="0.8"/><circle cx="662.2" cy="240.0" r="3.6" fill="#0000ff" stroke="#000" stroke-width="0.8"/><circle cx="652.2" cy="240.6" r="3.6" fill="#0000ff" stroke="#000" stroke-width="0.8"/><circle cx="661.1" cy="245.6" r="3.6" fill="#0000ff" stroke="#000" stroke-width="0.8"/><circle cx="668.4" cy="250.0" r="3.6" fill="#0000ff" stroke="#000" stroke-width="0.8"/><circle cx="656.7" cy="253.9" r="3.6" fill="#0000ff" stroke="#000" stroke-width="0.8"/><circle cx="673.9" cy="256.7" r="3.6" fill="#0000ff" stroke="#000" stroke-width="0.8"/><circle cx="666.7" cy="260.1" r="3.6" fill="#0000ff" stroke="#000" stroke-width="0.8"/><circle cx="681.2" cy="261.2" r="3.6" fill="#0000ff" stroke="#000" stroke-width="0.8"/><circle cx="685.6" cy="267.3" r="3.6" fill="#0000ff" stroke="#000" stroke-width="0.8"/><circle cx="689.5" cy="259.5" r="3.6" fill="#0000ff" stroke="#000" stroke-width="0.8"/><circle cx="690.6" cy="271.7" r="3.6" fill="#0000ff" stroke="#000" stroke-width="0.8"/><circle cx="697.9" cy="265.1" r="3.6" fill="#0000ff" stroke="#000" stroke-width="0.8"/><circle cx="678.9" cy="268.0" r="3.6" fill="#0000ff" stroke="#000" stroke-width="0.8"/><circle cx="673.0" cy="264.0" r="3.6" fill="#0000ff" stroke="#000" stroke-width="0.8"/><circle cx="698.4" cy="266.4" r="3.6" fill="#0000ff" stroke="#000" stroke-width="0.8"/><circle cx="705.3" cy="274.1" r="3.6" fill="#0000ff" stroke="#000" stroke-width="0.8"/><circle cx="690.0" cy="273.4" r="3.6" fill="#0000ff" stroke="#000" stroke-width="0.8"/><circle cx="703.9" cy="284.5" r="3.6" fill="#0000ff" stroke="#000" stroke-width="0.8"/><circle cx="708.8" cy="291.5" r="3.6" fill="#0000ff" stroke="#000" stroke-width="0.8"/><circle cx="719.2" cy="286.6" r="3.6" fill="#0000ff" stroke="#000" stroke-width="0.8"/><circle cx="716.5" cy="293.6" r="3.6" fill="#0000ff" stroke="#000" stroke-width="0.8"/><circle cx="700.4" cy="299.8" r="3.6" fill="#0000ff" stroke="#000" stroke-width="0.8"/><circle cx="712.3" cy="306.8" r="3.6" fill="#0000ff" stroke="#000" stroke-width="0.8"/><circle cx="710.9" cy="311.0" r="3.6" fill="#0000ff" stroke="#000" stroke-width="0.8"/><circle cx="738.0" cy="310.3" r="3.6" fill="#0000ff" stroke="#000" stroke-width="0.8"/><circle cx="745.7" cy="298.4" r="3.6" fill="#0000ff" stroke="#000" stroke-width="0.8"/><circle cx="746.4" cy="305.4" r="3.6" fill="#0000ff" stroke="#000" stroke-width="0.8"/><circle cx="698.4" cy="288.0" r="3.6" fill="#0000ff" stroke="#000" stroke-width="0.8"/><circle cx="693.5" cy="290.8" r="3.6" fill="#0000ff" stroke="#000" stroke-width="0.8"/><circle cx="706.7" cy="296.3" r="3.6" fill="#0000ff" stroke="#000" stroke-width="0.8"/><circle cx="687.8" cy="282.3" r="3.6" fill="#0000ff" stroke="#000" stroke-width="0.8"/><circle cx="678.9" cy="276.7" r="3.6" fill="#0000ff" stroke="#000" stroke-width="0.8"/><circle cx="701.2" cy="296.8" r="3.6" fill="#0000ff" stroke="#000" stroke-width="0.8"/><circle cx="720.1" cy="302.4" r="3.6" fill="#0000ff" stroke="#000" stroke-width="0.8"/><circle cx="704.0" cy="305.0" r="3.6" fill="#0000ff" stroke="#000" stroke-width="0.8"/><circle cx="744.0" cy="312.0" r="3.6" fill="#0000ff" stroke="#000" stroke-width="0.8"/><polygon points="621.1,222.2 623.9,225.0 621.1,227.8 618.3,225.0" fill="none" stroke="#f00" stroke-width="1.2"/><polygon points="635.1,228.9 637.9,231.7 635.1,234.5 632.3,231.7" fill="none" stroke="#f00" stroke-width="1.2"/><polygon points="641.2,230.6 644.0,233.4 641.2,236.2 638.4,233.4" fill="none" stroke="#f00" stroke-width="1.2"/><polygon points="636.7,235.0 639.5,237.8 636.7,240.6 633.9,237.8" fill="none" stroke="#f00" stroke-width="1.2"/><polygon points="643.4,235.6 646.2,238.4 643.4,241.2 640.6,238.4" fill="none" stroke="#f00" stroke-width="1.2"/><polygon points="646.2,233.9 649.0,236.7 646.2,239.5 643.4,236.7" fill="none" stroke="#f00" stroke-width="1.2"/><polygon points="654.5,241.7 657.3,244.5 654.5,247.3 651.7,244.5" fill="none" stroke="#f00" stroke-width="1.2"/><polygon points="657.3,236.2 660.1,239.0 657.3,241.8 654.5,239.0" fill="none" stroke="#f00" stroke-width="1.2"/><polygon points="659.0,246.7 661.8,249.5 659.0,252.3 656.2,249.5" fill="none" stroke="#f00" stroke-width="1.2"/><polygon points="657.2,236.7 660.0,239.5 657.2,242.3 654.4,239.5" fill="none" stroke="#f00" stroke-width="1.2"/><polygon points="653.9,241.7 656.7,244.5 653.9,247.3 651.1,244.5" fill="none" stroke="#f00" stroke-width="1.2"/><polygon points="656.7,246.1 659.5,248.9 656.7,251.7 653.9,248.9" fill="none" stroke="#f00" stroke-width="1.2"/><polygon points="660.6,251.7 663.4,254.5 660.6,257.3 657.8,254.5" fill="none" stroke="#f00" stroke-width="1.2"/><polygon points="664.5,251.7 667.3,254.5 664.5,257.3 661.7,254.5" fill="none" stroke="#f00" stroke-width="1.2"/><polygon points="668.4,255.6 671.2,258.4 668.4,261.2 665.6,258.4" fill="none" stroke="#f00" stroke-width="1.2"/><polygon points="671.7,261.7 674.5,264.5 671.7,267.3 668.9,264.5" fill="none" stroke="#f00" stroke-width="1.2"/><polygon points="676.7,262.3 679.5,265.1 676.7,267.9 673.9,265.1" fill="none" stroke="#f00" stroke-width="1.2"/><polygon points="679.5,263.4 682.3,266.2 679.5,269.0 676.7,266.2" fill="none" stroke="#f00" stroke-width="1.2"/><polygon points="692.9,257.3 695.7,260.1 692.9,262.9 690.1,260.1" fill="none" stroke="#f00" stroke-width="1.2"/><polygon points="696.2,252.2 699.0,255.0 696.2,257.8 693.4,255.0" fill="none" stroke="#f00" stroke-width="1.2"/><polygon points="730.4,286.6 733.2,289.4 730.4,292.2 727.6,289.4" fill="none" stroke="#f00" stroke-width="1.2"/><polygon points="718.6,292.8 721.4,295.6 718.6,298.4 715.8,295.6" fill="none" stroke="#f00" stroke-width="1.2"/><polygon points="692.1,278.9 694.9,281.7 692.1,284.5 689.3,281.7" fill="none" stroke="#f00" stroke-width="1.2"/><polygon points="694.9,284.5 697.7,287.3 694.9,290.1 692.1,287.3" fill="none" stroke="#f00" stroke-width="1.2"/><polygon points="701.1,289.4 703.9,292.2 701.1,295.0 698.3,292.2" fill="none" stroke="#f00" stroke-width="1.2"/><polygon points="703.9,292.2 706.7,295.0 703.9,297.8 701.1,295.0" fill="none" stroke="#f00" stroke-width="1.2"/><polygon points="709.5,296.3 712.3,299.1 709.5,301.9 706.7,299.1" fill="none" stroke="#f00" stroke-width="1.2"/><polygon points="715.8,301.2 718.6,304.0 715.8,306.8 713.0,304.0" fill="none" stroke="#f00" stroke-width="1.2"/><polygon points="717.9,305.4 720.7,308.2 717.9,311.0 715.1,308.2" fill="none" stroke="#f00" stroke-width="1.2"/><polygon points="723.4,306.8 726.2,309.6 723.4,312.4 720.6,309.6" fill="none" stroke="#f00" stroke-width="1.2"/><polygon points="726.2,304.7 729.0,307.5 726.2,310.3 723.4,307.5" fill="none" stroke="#f00" stroke-width="1.2"/><polygon points="650.0,240.2 652.8,243.0 650.0,245.8 647.2,243.0" fill="none" stroke="#f00" stroke-width="1.2"/><polygon points="662.0,248.2 664.8,251.0 662.0,253.8 659.2,251.0" fill="none" stroke="#f00" stroke-width="1.2"/><polygon points="666.0,253.2 668.8,256.0 666.0,258.8 663.2,256.0" fill="none" stroke="#f00" stroke-width="1.2"/><polygon points="670.0,257.2 672.8,260.0 670.0,262.8 667.2,260.0" fill="none" stroke="#f00" stroke-width="1.2"/><polygon points="674.0,259.2 676.8,262.0 674.0,264.8 671.2,262.0" fill="none" stroke="#f00" stroke-width="1.2"/><polygon points="682.0,267.2 684.8,270.0 682.0,272.8 679.2,270.0" fill="none" stroke="#f00" stroke-width="1.2"/><polygon points="686.0,271.2 688.8,274.0 686.0,276.8 683.2,274.0" fill="none" stroke="#f00" stroke-width="1.2"/><polygon points="689.0,275.2 691.8,278.0 689.0,280.8 686.2,278.0" fill="none" stroke="#f00" stroke-width="1.2"/><polygon points="684.0,274.2 686.8,277.0 684.0,279.8 681.2,277.0" fill="none" stroke="#f00" stroke-width="1.2"/><polygon points="698.0,286.2 700.8,289.0 698.0,291.8 695.2,289.0" fill="none" stroke="#f00" stroke-width="1.2"/><polygon points="706.0,294.2 708.8,297.0 706.0,299.8 703.2,297.0" fill="none" stroke="#f00" stroke-width="1.2"/><polygon points="712.0,299.2 714.8,302.0 712.0,304.8 709.2,302.0" fill="none" stroke="#f00" stroke-width="1.2"/><polygon points="708.0,302.2 710.8,305.0 708.0,307.8 705.2,305.0" fill="none" stroke="#f00" stroke-width="1.2"/><polygon points="720.0,307.2 722.8,310.0 720.0,312.8 717.2,310.0" fill="none" stroke="#f00" stroke-width="1.2"/><polygon points="662.0,254.2 664.8,257.0 662.0,259.8 659.2,257.0" fill="none" stroke="#f00" stroke-width="1.2"/><polygon points="668.0,259.2 670.8,262.0 668.0,264.8 665.2,262.0" fill="none" stroke="#f00" stroke-width="1.2"/><polygon points="677.0,267.2 679.8,270.0 677.0,272.8 674.2,270.0" fill="none" stroke="#f00" stroke-width="1.2"/><polygon points="681.0,271.2 683.8,274.0 681.0,276.8 678.2,274.0" fill="none" stroke="#f00" stroke-width="1.2"/><polygon points="690.0,281.2 692.8,284.0 690.0,286.8 687.2,284.0" fill="none" stroke="#f00" stroke-width="1.2"/><polygon points="696.0,289.2 698.8,292.0 696.0,294.8 693.2,292.0" fill="none" stroke="#f00" stroke-width="1.2"/><polygon points="700.0,291.2 702.8,294.0 700.0,296.8 697.2,294.0" fill="none" stroke="#f00" stroke-width="1.2"/><polygon points="713.0,303.2 715.8,306.0 713.0,308.8 710.2,306.0" fill="none" stroke="#f00" stroke-width="1.2"/><polygon points="532.30,118.00 533.89,121.82 538.01,122.15 534.87,124.83 535.83,128.85 532.30,126.70 528.77,128.85 529.73,124.83 526.59,122.15 530.71,121.82" fill="#ff0000" stroke="#000" stroke-width="0.9" stroke-linejoin="miter"/><polygon points="541.20,139.60 542.79,143.42 546.91,143.75 543.77,146.43 544.73,150.45 541.20,148.30 537.67,150.45 538.63,146.43 535.49,143.75 539.61,143.42" fill="#ff0000" stroke="#000" stroke-width="0.9" stroke-linejoin="miter"/><polygon points="531.70,139.00 533.29,142.82 537.41,143.15 534.27,145.83 535.23,149.85 531.70,147.70 528.17,149.85 529.13,145.83 525.99,143.15 530.11,142.82" fill="#ff0000" stroke="#000" stroke-width="0.9" stroke-linejoin="miter"/><polygon points="527.80,142.90 529.39,146.72 533.51,147.05 530.37,149.73 531.33,153.75 527.80,151.60 524.27,153.75 525.23,149.73 522.09,147.05 526.21,146.72" fill="#ff0000" stroke="#000" stroke-width="0.9" stroke-linejoin="miter"/><polygon points="533.90,150.10 535.49,153.92 539.61,154.25 536.47,156.93 537.43,160.95 533.90,158.80 530.37,160.95 531.33,156.93 528.19,154.25 532.31,153.92" fill="#ff0000" stroke="#000" stroke-width="0.9" stroke-linejoin="miter"/><polygon points="559.00,155.70 560.59,159.52 564.71,159.85 561.57,162.53 562.53,166.55 559.00,164.40 555.47,166.55 556.43,162.53 553.29,159.85 557.41,159.52" fill="#ff0000" stroke="#000" stroke-width="0.9" stroke-linejoin="miter"/><polygon points="543.90,160.70 545.49,164.52 549.61,164.85 546.47,167.53 547.43,171.55 543.90,169.40 540.37,171.55 541.33,167.53 538.19,164.85 542.31,164.52" fill="#ff0000" stroke="#000" stroke-width="0.9" stroke-linejoin="miter"/><polygon points="555.10,168.50 556.69,172.32 560.81,172.65 557.67,175.33 558.63,179.35 555.10,177.20 551.57,179.35 552.53,175.33 549.39,172.65 553.51,172.32" fill="#ff0000" stroke="#000" stroke-width="0.9" stroke-linejoin="miter"/><polygon points="545.60,170.20 547.19,174.02 551.31,174.35 548.17,177.03 549.13,181.05 545.60,178.90 542.07,181.05 543.03,177.03 539.89,174.35 544.01,174.02" fill="#ff0000" stroke="#000" stroke-width="0.9" stroke-linejoin="miter"/><polygon points="543.90,161.20 545.49,165.02 549.61,165.35 546.47,168.03 547.43,172.05 543.90,169.90 540.37,172.05 541.33,168.03 538.19,165.35 542.31,165.02" fill="#ff0000" stroke="#000" stroke-width="0.9" stroke-linejoin="miter"/><polygon points="555.00,169.00 556.59,172.82 560.71,173.15 557.57,175.83 558.53,179.85 555.00,177.70 551.47,179.85 552.43,175.83 549.29,173.15 553.41,172.82" fill="#ff0000" stroke="#000" stroke-width="0.9" stroke-linejoin="miter"/><polygon points="546.10,170.70 547.69,174.52 551.81,174.85 548.67,177.53 549.63,181.55 546.10,179.40 542.57,181.55 543.53,177.53 540.39,174.85 544.51,174.52" fill="#ff0000" stroke="#000" stroke-width="0.9" stroke-linejoin="miter"/><polygon points="552.20,178.50 553.79,182.32 557.91,182.65 554.77,185.33 555.73,189.35 552.20,187.20 548.67,189.35 549.63,185.33 546.49,182.65 550.61,182.32" fill="#ff0000" stroke="#000" stroke-width="0.9" stroke-linejoin="miter"/><polygon points="559.50,181.30 561.09,185.12 565.21,185.45 562.07,188.13 563.03,192.15 559.50,190.00 555.97,192.15 556.93,188.13 553.79,185.45 557.91,185.12" fill="#ff0000" stroke="#000" stroke-width="0.9" stroke-linejoin="miter"/><polygon points="563.90,185.20 565.49,189.02 569.61,189.35 566.47,192.03 567.43,196.05 563.90,193.90 560.37,196.05 561.33,192.03 558.19,189.35 562.31,189.02" fill="#ff0000" stroke="#000" stroke-width="0.9" stroke-linejoin="miter"/><polygon points="558.90,190.20 560.49,194.02 564.61,194.35 561.47,197.03 562.43,201.05 558.90,198.90 555.37,201.05 556.33,197.03 553.19,194.35 557.31,194.02" fill="#ff0000" stroke="#000" stroke-width="0.9" stroke-linejoin="miter"/><polygon points="572.30,188.50 573.89,192.32 578.01,192.65 574.87,195.33 575.83,199.35 572.30,197.20 568.77,199.35 569.73,195.33 566.59,192.65 570.71,192.32" fill="#ff0000" stroke="#000" stroke-width="0.9" stroke-linejoin="miter"/><polygon points="571.70,195.20 573.29,199.02 577.41,199.35 574.27,202.03 575.23,206.05 571.70,203.90 568.17,206.05 569.13,202.03 565.99,199.35 570.11,199.02" fill="#ff0000" stroke="#000" stroke-width="0.9" stroke-linejoin="miter"/><polygon points="572.80,189.00 574.39,192.82 578.51,193.15 575.37,195.83 576.33,199.85 572.80,197.70 569.27,199.85 570.23,195.83 567.09,193.15 571.21,192.82" fill="#ff0000" stroke="#000" stroke-width="0.9" stroke-linejoin="miter"/><polygon points="571.70,194.60 573.29,198.42 577.41,198.75 574.27,201.43 575.23,205.45 571.70,203.30 568.17,205.45 569.13,201.43 565.99,198.75 570.11,198.42" fill="#ff0000" stroke="#000" stroke-width="0.9" stroke-linejoin="miter"/><polygon points="590.60,200.70 592.19,204.52 596.31,204.85 593.17,207.53 594.13,211.55 590.60,209.40 587.07,211.55 588.03,207.53 584.89,204.85 589.01,204.52" fill="#ff0000" stroke="#000" stroke-width="0.9" stroke-linejoin="miter"/><polygon points="603.40,208.50 604.99,212.32 609.11,212.65 605.97,215.33 606.93,219.35 603.40,217.20 599.87,219.35 600.83,215.33 597.69,212.65 601.81,212.32" fill="#ff0000" stroke="#000" stroke-width="0.9" stroke-linejoin="miter"/><polygon points="605.60,211.30 607.19,215.12 611.31,215.45 608.17,218.13 609.13,222.15 605.60,220.00 602.07,222.15 603.03,218.13 599.89,215.45 604.01,215.12" fill="#ff0000" stroke="#000" stroke-width="0.9" stroke-linejoin="miter"/><polygon points="612.30,216.30 613.89,220.12 618.01,220.45 614.87,223.13 615.83,227.15 612.30,225.00 608.77,227.15 609.73,223.13 606.59,220.45 610.71,220.12" fill="#ff0000" stroke="#000" stroke-width="0.9" stroke-linejoin="miter"/><polygon points="612.20,216.20 613.79,220.02 617.91,220.35 614.77,223.03 615.73,227.05 612.20,224.90 608.67,227.05 609.63,223.03 606.49,220.35 610.61,220.02" fill="#ff0000" stroke="#000" stroke-width="0.9" stroke-linejoin="miter"/><polygon points="631.20,230.70 632.79,234.52 636.91,234.85 633.77,237.53 634.73,241.55 631.20,239.40 627.67,241.55 628.63,237.53 625.49,234.85 629.61,234.52" fill="#ff0000" stroke="#000" stroke-width="0.9" stroke-linejoin="miter"/><polygon points="647.80,204.00 649.39,207.82 653.51,208.15 650.37,210.83 651.33,214.85 647.80,212.70 644.27,214.85 645.23,210.83 642.09,208.15 646.21,207.82" fill="#ff0000" stroke="#000" stroke-width="0.9" stroke-linejoin="miter"/><polygon points="546.50,45.80 548.26,49.37 552.21,49.95 549.35,52.73 550.03,56.65 546.50,54.80 542.97,56.65 543.65,52.73 540.79,49.95 544.74,49.37" fill="#fff" stroke="#ff0000" stroke-width="1.7" stroke-linejoin="round"/><polygon points="531.80,77.80 533.56,81.37 537.51,81.95 534.65,84.73 535.33,88.65 531.80,86.80 528.27,88.65 528.95,84.73 526.09,81.95 530.04,81.37" fill="#fff" stroke="#ff0000" stroke-width="1.7" stroke-linejoin="round"/><polygon points="509.40,104.30 511.16,107.87 515.11,108.45 512.25,111.23 512.93,115.15 509.40,113.30 505.87,115.15 506.55,111.23 503.69,108.45 507.64,107.87" fill="#fff" stroke="#ff0000" stroke-width="1.7" stroke-linejoin="round"/><polygon points="517.10,124.50 518.86,128.07 522.81,128.65 519.95,131.43 520.63,135.35 517.10,133.50 513.57,135.35 514.25,131.43 511.39,128.65 515.34,128.07" fill="#fff" stroke="#ff0000" stroke-width="1.7" stroke-linejoin="round"/>
<g stroke="#000" stroke-width="1.1" fill="none"><line x1="60.90" y1="313.60" x2="60.90" y2="310.40"/><line x1="70.89" y1="313.60" x2="70.89" y2="310.40"/><line x1="80.89" y1="313.60" x2="80.89" y2="310.40"/><line x1="90.89" y1="313.60" x2="90.89" y2="310.40"/><line x1="110.88" y1="313.60" x2="110.88" y2="310.40"/><line x1="120.88" y1="313.60" x2="120.88" y2="310.40"/><line x1="130.87" y1="313.60" x2="130.87" y2="310.40"/><line x1="140.87" y1="313.60" x2="140.87" y2="310.40"/><line x1="160.86" y1="313.60" x2="160.86" y2="310.40"/><line x1="170.86" y1="313.60" x2="170.86" y2="310.40"/><line x1="180.86" y1="313.60" x2="180.86" y2="310.40"/><line x1="190.85" y1="313.60" x2="190.85" y2="310.40"/><line x1="210.85" y1="313.60" x2="210.85" y2="310.40"/><line x1="220.84" y1="313.60" x2="220.84" y2="310.40"/><line x1="230.84" y1="313.60" x2="230.84" y2="310.40"/><line x1="240.84" y1="313.60" x2="240.84" y2="310.40"/><line x1="260.83" y1="313.60" x2="260.83" y2="310.40"/><line x1="270.83" y1="313.60" x2="270.83" y2="310.40"/><line x1="280.82" y1="313.60" x2="280.82" y2="310.40"/><line x1="290.82" y1="313.60" x2="290.82" y2="310.40"/><line x1="310.81" y1="313.60" x2="310.81" y2="310.40"/><line x1="320.81" y1="313.60" x2="320.81" y2="310.40"/><line x1="330.81" y1="313.60" x2="330.81" y2="310.40"/><line x1="340.80" y1="313.60" x2="340.80" y2="310.40"/><line x1="50.90" y1="313.60" x2="50.90" y2="308.00"/><line x1="100.88" y1="313.60" x2="100.88" y2="308.00"/><line x1="150.87" y1="313.60" x2="150.87" y2="308.00"/><line x1="200.85" y1="313.60" x2="200.85" y2="308.00"/><line x1="250.83" y1="313.60" x2="250.83" y2="308.00"/><line x1="300.82" y1="313.60" x2="300.82" y2="308.00"/><line x1="350.80" y1="313.60" x2="350.80" y2="308.00"/><line x1="50.90" y1="27.54" x2="54.10" y2="27.54"/><line x1="350.80" y1="27.54" x2="347.60" y2="27.54"/><line x1="50.90" y1="50.43" x2="54.10" y2="50.43"/><line x1="350.80" y1="50.43" x2="347.60" y2="50.43"/><line x1="50.90" y1="61.87" x2="54.10" y2="61.87"/><line x1="350.80" y1="61.87" x2="347.60" y2="61.87"/><line x1="50.90" y1="73.31" x2="54.10" y2="73.31"/><line x1="350.80" y1="73.31" x2="347.60" y2="73.31"/><line x1="50.90" y1="96.20" x2="54.10" y2="96.20"/><line x1="350.80" y1="96.20" x2="347.60" y2="96.20"/><line x1="50.90" y1="107.64" x2="54.10" y2="107.64"/><line x1="350.80" y1="107.64" x2="347.60" y2="107.64"/><line x1="50.90" y1="119.08" x2="54.10" y2="119.08"/><line x1="350.80" y1="119.08" x2="347.60" y2="119.08"/><line x1="50.90" y1="141.97" x2="54.10" y2="141.97"/><line x1="350.80" y1="141.97" x2="347.60" y2="141.97"/><line x1="50.90" y1="153.41" x2="54.10" y2="153.41"/><line x1="350.80" y1="153.41" x2="347.60" y2="153.41"/><line x1="50.90" y1="164.85" x2="54.10" y2="164.85"/><line x1="350.80" y1="164.85" x2="347.60" y2="164.85"/><line x1="50.90" y1="187.73" x2="54.10" y2="187.73"/><line x1="350.80" y1="187.73" x2="347.60" y2="187.73"/><line x1="50.90" y1="199.18" x2="54.10" y2="199.18"/><line x1="350.80" y1="199.18" x2="347.60" y2="199.18"/><line x1="50.90" y1="210.62" x2="54.10" y2="210.62"/><line x1="350.80" y1="210.62" x2="347.60" y2="210.62"/><line x1="50.90" y1="233.50" x2="54.10" y2="233.50"/><line x1="350.80" y1="233.50" x2="347.60" y2="233.50"/><line x1="50.90" y1="244.95" x2="54.10" y2="244.95"/><line x1="350.80" y1="244.95" x2="347.60" y2="244.95"/><line x1="50.90" y1="256.39" x2="54.10" y2="256.39"/><line x1="350.80" y1="256.39" x2="347.60" y2="256.39"/><line x1="50.90" y1="279.27" x2="54.10" y2="279.27"/><line x1="350.80" y1="279.27" x2="347.60" y2="279.27"/><line x1="50.90" y1="290.72" x2="54.10" y2="290.72"/><line x1="350.80" y1="290.72" x2="347.60" y2="290.72"/><line x1="50.90" y1="302.16" x2="54.10" y2="302.16"/><line x1="350.80" y1="302.16" x2="347.60" y2="302.16"/><line x1="50.90" y1="38.98" x2="56.50" y2="38.98"/><line x1="350.80" y1="38.98" x2="345.20" y2="38.98"/><line x1="50.90" y1="84.75" x2="56.50" y2="84.75"/><line x1="350.80" y1="84.75" x2="345.20" y2="84.75"/><line x1="50.90" y1="130.52" x2="56.50" y2="130.52"/><line x1="350.80" y1="130.52" x2="345.20" y2="130.52"/><line x1="50.90" y1="176.29" x2="56.50" y2="176.29"/><line x1="350.80" y1="176.29" x2="345.20" y2="176.29"/><line x1="50.90" y1="222.06" x2="56.50" y2="222.06"/><line x1="350.80" y1="222.06" x2="345.20" y2="222.06"/><line x1="50.90" y1="267.83" x2="56.50" y2="267.83"/><line x1="350.80" y1="267.83" x2="345.20" y2="267.83"/><line x1="50.90" y1="313.60" x2="56.50" y2="313.60"/><line x1="350.80" y1="313.60" x2="345.20" y2="313.60"/><line x1="97.68" y1="16.10" x2="97.68" y2="21.70"/><line x1="142.87" y1="16.10" x2="142.87" y2="21.70"/><line x1="178.56" y1="16.10" x2="178.56" y2="21.70"/><line x1="199.85" y1="16.10" x2="199.85" y2="21.70"/><line x1="292.82" y1="16.10" x2="292.82" y2="21.70"/></g>
<rect x="50.90" y="16.10" width="299.90" height="297.50" fill="none" stroke="#000" stroke-width="1.5"/>
<g font-size="17" fill="#000" stroke="#000"><text transform="translate(50.90,336) scale(1,1.06)" text-anchor="middle" stroke="#000">-0.5</text><text transform="translate(100.88,336) scale(1,1.06)" text-anchor="middle" stroke="#000">0.0</text><text transform="translate(150.87,336) scale(1,1.06)" text-anchor="middle" stroke="#000">0.5</text><text transform="translate(200.85,336) scale(1,1.06)" text-anchor="middle" stroke="#000">1.0</text><text transform="translate(250.83,336) scale(1,1.06)" text-anchor="middle" stroke="#000">1.5</text><text transform="translate(300.82,336) scale(1,1.06)" text-anchor="middle" stroke="#000">2.0</text><text transform="translate(350.80,336) scale(1,1.06)" text-anchor="middle" stroke="#000">2.5</text><text transform="translate(45.40,45.08) scale(1,1.06)" text-anchor="end" stroke="#000">-2</text><text transform="translate(45.40,90.85) scale(1,1.06)" text-anchor="end" stroke="#000">0</text><text transform="translate(45.40,136.62) scale(1,1.06)" text-anchor="end" stroke="#000">2</text><text transform="translate(45.40,182.39) scale(1,1.06)" text-anchor="end" stroke="#000">4</text><text transform="translate(45.40,228.16) scale(1,1.06)" text-anchor="end" stroke="#000">6</text><text transform="translate(45.40,273.93) scale(1,1.06)" text-anchor="end" stroke="#000">8</text><text transform="translate(45.40,313.40) scale(1,1.06)" text-anchor="end" stroke="#000">10</text></g>
<g font-size="14.5" fill="#000" stroke="#000"><text transform="translate(97.68,10.4) scale(1,1.05)" text-anchor="middle" stroke="#000">A0</text><text transform="translate(142.87,10.4) scale(1,1.05)" text-anchor="middle" stroke="#000">F0</text><text transform="translate(178.56,10.4) scale(1,1.05)" text-anchor="middle" stroke="#000">G0</text><text transform="translate(199.85,10.4) scale(1,1.05)" text-anchor="middle" stroke="#000">K0</text><text transform="translate(292.82,10.4) scale(1,1.05)" text-anchor="middle" stroke="#000">M0</text></g>
<g stroke="#000" stroke-width="1.1" fill="none"><line x1="468.30" y1="313.20" x2="468.30" y2="310.00"/><line x1="488.30" y1="313.20" x2="488.30" y2="310.00"/><line x1="508.30" y1="313.20" x2="508.30" y2="310.00"/><line x1="528.30" y1="313.20" x2="528.30" y2="310.00"/><line x1="568.30" y1="313.20" x2="568.30" y2="310.00"/><line x1="588.30" y1="313.20" x2="588.30" y2="310.00"/><line x1="608.30" y1="313.20" x2="608.30" y2="310.00"/><line x1="628.30" y1="313.20" x2="628.30" y2="310.00"/><line x1="668.30" y1="313.20" x2="668.30" y2="310.00"/><line x1="688.30" y1="313.20" x2="688.30" y2="310.00"/><line x1="708.30" y1="313.20" x2="708.30" y2="310.00"/><line x1="728.30" y1="313.20" x2="728.30" y2="310.00"/><line x1="448.30" y1="313.20" x2="448.30" y2="307.60"/><line x1="548.30" y1="313.20" x2="548.30" y2="307.60"/><line x1="648.30" y1="313.20" x2="648.30" y2="307.60"/><line x1="748.30" y1="313.20" x2="748.30" y2="307.60"/><line x1="448.30" y1="34.67" x2="451.50" y2="34.67"/><line x1="748.30" y1="34.67" x2="745.10" y2="34.67"/><line x1="448.30" y1="71.81" x2="451.50" y2="71.81"/><line x1="748.30" y1="71.81" x2="745.10" y2="71.81"/><line x1="448.30" y1="90.38" x2="451.50" y2="90.38"/><line x1="748.30" y1="90.38" x2="745.10" y2="90.38"/><line x1="448.30" y1="108.94" x2="451.50" y2="108.94"/><line x1="748.30" y1="108.94" x2="745.10" y2="108.94"/><line x1="448.30" y1="146.08" x2="451.50" y2="146.08"/><line x1="748.30" y1="146.08" x2="745.10" y2="146.08"/><line x1="448.30" y1="164.65" x2="451.50" y2="164.65"/><line x1="748.30" y1="164.65" x2="745.10" y2="164.65"/><line x1="448.30" y1="183.22" x2="451.50" y2="183.22"/><line x1="748.30" y1="183.22" x2="745.10" y2="183.22"/><line x1="448.30" y1="220.36" x2="451.50" y2="220.36"/><line x1="748.30" y1="220.36" x2="745.10" y2="220.36"/><line x1="448.30" y1="238.92" x2="451.50" y2="238.92"/><line x1="748.30" y1="238.92" x2="745.10" y2="238.92"/><line x1="448.30" y1="257.49" x2="451.50" y2="257.49"/><line x1="748.30" y1="257.49" x2="745.10" y2="257.49"/><line x1="448.30" y1="294.63" x2="451.50" y2="294.63"/><line x1="748.30" y1="294.63" x2="745.10" y2="294.63"/><line x1="448.30" y1="53.24" x2="453.90" y2="53.24"/><line x1="748.30" y1="53.24" x2="742.70" y2="53.24"/><line x1="448.30" y1="127.51" x2="453.90" y2="127.51"/><line x1="748.30" y1="127.51" x2="742.70" y2="127.51"/><line x1="448.30" y1="201.79" x2="453.90" y2="201.79"/><line x1="748.30" y1="201.79" x2="742.70" y2="201.79"/><line x1="448.30" y1="276.06" x2="453.90" y2="276.06"/><line x1="748.30" y1="276.06" x2="742.70" y2="276.06"/><line x1="542.10" y1="16.10" x2="542.10" y2="21.70"/><line x1="632.50" y1="16.10" x2="632.50" y2="21.70"/><line x1="704.50" y1="16.10" x2="704.50" y2="21.70"/><line x1="747.30" y1="16.10" x2="747.30" y2="21.70"/></g>
<rect x="448.30" y="16.10" width="300.00" height="297.10" fill="none" stroke="#000" stroke-width="1.5"/>
<g font-size="17" fill="#000" stroke="#000"><text transform="translate(448.30,336) scale(1,1.06)" text-anchor="middle" stroke="#000">-0.5</text><text transform="translate(548.30,336) scale(1,1.06)" text-anchor="middle" stroke="#000">0.0</text><text transform="translate(648.30,336) scale(1,1.06)" text-anchor="middle" stroke="#000">0.5</text><text transform="translate(748.30,336) scale(1,1.06)" text-anchor="middle" stroke="#000">1.0</text><text transform="translate(442.80,59.34) scale(1,1.06)" text-anchor="end" stroke="#000">-2</text><text transform="translate(442.80,133.61) scale(1,1.06)" text-anchor="end" stroke="#000">0</text><text transform="translate(442.80,207.89) scale(1,1.06)" text-anchor="end" stroke="#000">2</text><text transform="translate(442.80,282.16) scale(1,1.06)" text-anchor="end" stroke="#000">4</text></g>
<g font-size="14.5" fill="#000" stroke="#000"><text transform="translate(542.10,10.4) scale(1,1.05)" text-anchor="middle" stroke="#000">A0</text><text transform="translate(632.50,10.4) scale(1,1.05)" text-anchor="middle" stroke="#000">F0</text><text transform="translate(704.50,10.4) scale(1,1.05)" text-anchor="middle" stroke="#000">G0</text><text transform="translate(747.30,10.4) scale(1,1.05)" text-anchor="middle" stroke="#000">K0</text></g>
<text transform="translate(201,355) scale(1,1.05)" font-size="17" text-anchor="middle" stroke="#000">(G<tspan font-size="11" dy="3">BP</tspan><tspan dy="-3"> - G</tspan><tspan font-size="11" dy="3">RP</tspan><tspan dy="-3">)</tspan><tspan font-size="11" dy="3">0</tspan></text>
<text transform="translate(598,355) scale(1,1.05)" font-size="17" text-anchor="middle" stroke="#000">(G<tspan font-size="11" dy="3">BP</tspan><tspan dy="-3"> - G</tspan><tspan font-size="11" dy="3">RP</tspan><tspan dy="-3">)</tspan><tspan font-size="11" dy="3">0</tspan></text>
<text transform="translate(13.3,165.2) rotate(-90)" font-size="17" text-anchor="middle" stroke="#000">M<tspan font-size="11" dy="3">G</tspan></text>
<text transform="translate(414.4,165.4) rotate(-90)" font-size="17" text-anchor="middle" stroke="#000">M<tspan font-size="11" dy="3">G</tspan></text>
<text transform="translate(152,39) scale(1,1.05)" font-size="11" fill="#0000ff" stroke="#0000ff">130 Myr</text><text transform="translate(164.2,89.3) scale(1,1.05)" font-size="11" fill="#ff0000" stroke="#ff0000">1 Gyr</text><text transform="translate(226.6,101.8) scale(1,1.05)" font-size="11" fill="#ff0000" stroke="#ff0000">42 Ceti</text><text transform="translate(461.5,31.1) scale(1,1.05)" font-size="11.4" fill="#000" stroke="#000">Models:</text><text transform="translate(500.3,44.1) scale(1,1.05)" font-size="11.4" fill="#ff0000" text-anchor="end" stroke="#ff0000">80 Myr</text><text transform="translate(500.3,57.1) scale(1,1.05)" font-size="11.4" fill="#0000ff" text-anchor="end" stroke="#0000ff">130 Myr</text><text transform="translate(557,55.6) scale(1,1.14)" font-size="9.5" fill="#000" stroke="#000">Algol-type EB</text><text transform="translate(541,86.9) scale(1,1.14)" font-size="9.5" fill="#000" stroke="#000">Be</text><text transform="translate(469,113.6) scale(1,1.14)" font-size="9.5" fill="#000" stroke="#000">α<tspan font-size="6.5" dy="-4">2</tspan><tspan dy="4"> CVn</tspan></text><text transform="translate(472.5,133.7) scale(1,1.14)" font-size="9.5" fill="#000" stroke="#000">Peculiar</text><rect x="57.7" y="249.9" width="120.7" height="52.5" fill="#fff" stroke="#000" stroke-width="1.2"/><circle cx="68.5" cy="256.9" r="3.1" fill="#bdbdbd" stroke="#000" stroke-width="0.7"/><text transform="translate(76.9,261.2) scale(1,1.05)" font-size="11.5" fill="#000" stroke="#000">NGC 6811 (1 Gyr)</text><circle cx="68.5" cy="268.5" r="3.1" fill="#00ffff" stroke="#000" stroke-width="0.7"/><text transform="translate(76.9,272.8) scale(1,1.05)" font-size="11.5" fill="#000" stroke="#000">Pleiades (125 Myr)</text><circle cx="68.5" cy="280.2" r="3.1" fill="#0000ff" stroke="#000" stroke-width="0.7"/><text transform="translate(76.9,284.3) scale(1,1.05)" font-size="11.5" fill="#000" stroke="#000">Pleiads with RVs</text><circle cx="68.5" cy="291.1" r="3.1" fill="#ff0000" stroke="#000" stroke-width="0.7"/><text transform="translate(76.9,295.7) scale(1,1.05)" font-size="11.5" fill="#000" stroke="#000">Psc-Eri Members</text><rect x="455.2" y="250" width="175.8" height="52.1" fill="#fff" stroke="#000" stroke-width="1.2"/><circle cx="466.0" cy="258.0" r="3.2" fill="#bdbdbd" stroke="#000" stroke-width="0.7"/><text transform="translate(474.4,261) scale(1,1.05)" font-size="11.5" fill="#000" stroke="#000">NGC 6811</text><circle cx="466.0" cy="269.3" r="3.4" fill="#0000ff" stroke="#000" stroke-width="0.7"/><text transform="translate(474.4,272.6) scale(1,1.05)" font-size="11.5" fill="#000" stroke="#000">Pleiades</text><polygon points="466.0,277.3 469.1,280.4 466.0,283.5 462.9,280.4" fill="#fff" stroke="#f00" stroke-width="1.0"/><text transform="translate(474.4,284) scale(1,1.05)" font-size="11.5" fill="#000" stroke="#000">Psc-Eri (Meingast et al. 2019)</text><polygon points="466.00,287.80 467.32,290.98 470.76,291.25 468.14,293.50 468.94,296.85 466.00,295.05 463.06,296.85 463.86,293.50 461.24,291.25 464.68,290.98" fill="#ff0000" stroke="#000" stroke-width="0.8" stroke-linejoin="miter"/><text transform="translate(474.4,295.7) scale(1,1.05)" font-size="11.5" fill="#000" stroke="#000">Psc-Eri (This work)</text>
</g></svg></body></html>
